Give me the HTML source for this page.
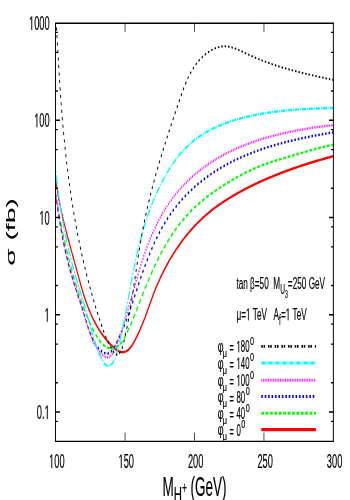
<!DOCTYPE html>
<html><head><meta charset="utf-8"><title>Cross section vs charged Higgs mass</title>
<style>html,body{margin:0;padding:0;background:#fff}svg{display:block;will-change:transform}text{font-family:"Liberation Sans",sans-serif;fill:#000;stroke:#000;stroke-width:0.18px}</style></head><body>
<svg width="350" height="500" viewBox="0 0 350 500">
<rect width="350" height="500" fill="#fff"/>
<defs><clipPath id="c"><rect x="123.56" y="23.00" width="617.33" height="418.30"/></clipPath></defs>
<g transform="scale(0.4500,1)" clip-path="url(#c)" fill="none">
<path d="M121.47,167.93 L121.62,168.77 L121.77,169.62 L121.93,170.47 L122.10,171.31 L122.27,172.16 L122.45,173.00 L122.63,173.84 L122.82,174.69 L123.02,175.53 L123.22,176.37 L123.43,177.21 L123.64,178.04 L123.86,178.88 L124.09,179.72 L124.32,180.55 L124.55,181.39 L124.79,182.22 L125.04,183.06 L125.29,183.89 L125.55,184.72 L125.81,185.55 L126.08,186.38 L126.35,187.22 L126.63,188.04 L126.91,188.87 L127.20,189.70 L127.49,190.53 L127.79,191.35 L128.09,192.18 L128.39,193.01 L128.70,193.83 L129.02,194.66 L129.34,195.48 L129.66,196.30 L129.99,197.12 L130.33,197.95 L130.66,198.77 L131.00,199.59 L131.35,200.41 L131.70,201.23 L132.05,202.05 L132.41,202.86 L132.77,203.68 L133.14,204.50 L133.51,205.32 L133.88,206.13 L134.26,206.95 L134.64,207.76 L135.02,208.58 L135.41,209.39 L135.80,210.21 L136.19,211.02 L136.59,211.83 L136.99,212.65 L137.40,213.46 L137.80,214.27 L138.22,215.08 L138.63,215.89 L139.05,216.71 L139.47,217.52 L139.89,218.33 L140.31,219.14 L140.74,219.95 L141.17,220.76 L141.61,221.56 L142.04,222.37 L142.48,223.18 L142.92,223.99 L143.37,224.80 L143.81,225.61 L144.26,226.41 L144.71,227.22 L145.17,228.03 L145.62,228.83 L146.08,229.64 L146.54,230.45 L147.00,231.25 L147.46,232.06 L147.93,232.86 L148.39,233.67 L148.86,234.48 L149.33,235.28 L149.81,236.09 L150.28,236.89 L150.75,237.70 L151.23,238.50 L151.71,239.31 L152.19,240.11 L152.67,240.92 L153.15,241.72 L153.64,242.52 L154.12,243.33 L154.61,244.13 L155.09,244.94 L155.58,245.74 L156.07,246.55 L156.56,247.35 L157.05,248.16 L157.54,248.96 L158.03,249.77 L158.52,250.57 L159.02,251.37 L159.51,252.18 L160.00,252.98 L160.50,253.79 L160.99,254.59 L161.49,255.40 L161.98,256.21 L162.48,257.01 L162.97,257.82 L163.47,258.62 L163.97,259.43 L164.46,260.23 L164.96,261.04 L165.45,261.85 L165.95,262.65 L166.44,263.46 L166.94,264.27 L167.43,265.07 L167.92,265.88 L168.42,266.69 L168.91,267.50 L169.40,268.31 L169.89,269.11 L170.38,269.92 L170.87,270.73 L171.36,271.54 L171.85,272.35 L172.34,273.16 L172.83,273.97 L173.32,274.78 L173.81,275.59 L174.30,276.40 L174.79,277.21 L175.28,278.02 L175.78,278.83 L176.27,279.64 L176.77,280.45 L177.26,281.26 L177.76,282.07 L178.27,282.87 L178.77,283.68 L179.28,284.49 L179.79,285.30 L180.30,286.11 L180.82,286.91 L181.34,287.72 L181.86,288.52 L182.38,289.33 L182.91,290.13 L183.45,290.94 L183.99,291.74 L184.53,292.54 L185.08,293.34 L185.63,294.14 L186.19,294.94 L186.75,295.74 L187.32,296.54 L187.89,297.33 L188.47,298.13 L189.06,298.92 L189.65,299.71 L190.25,300.51 L190.86,301.30 L191.47,302.09 L192.09,302.87 L192.71,303.66 L193.35,304.45 L193.99,305.23 L194.64,306.01 L195.29,306.79 L195.96,307.57 L196.63,308.35 L197.32,309.13 L198.01,309.90 L198.71,310.67 L199.41,311.44 L200.13,312.21 L200.86,312.98 L201.60,313.75 L202.35,314.51 L203.10,315.27 L203.87,316.03 L204.65,316.79 L205.44,317.54 L206.24,318.30 L207.05,319.05 L207.87,319.80 L208.70,320.55 L209.55,321.29 L210.41,322.03 L211.28,322.77 L212.16,323.51 L213.05,324.25 L213.96,324.98 L214.88,325.71 L215.81,326.44 L216.75,327.16 L217.71,327.89 L218.68,328.61 L219.67,329.32 L220.67,330.04 L221.69,330.75 L222.71,331.46 L223.76,332.16 L224.82,332.87 L225.89,333.57 L226.98,334.27 L228.08,334.96 L229.20,335.65 L230.33,336.34 L231.48,337.02 L232.65,337.71 L233.83,338.39 L235.03,339.06 L236.25,339.73 L237.48,340.40 L238.73,341.07 L240.00,341.73 L241.28,342.39 L242.59,343.04 L243.91,343.69 L245.24,344.34 L246.60,344.98 L247.97,345.62 L249.36,346.24 L250.76,346.85 L252.17,347.43 L253.60,348.00 L255.03,348.55 L256.48,349.06 L257.93,349.55 L259.39,350.01 L260.86,350.43 L262.33,350.81 L263.81,351.15 L265.28,351.44 L266.76,351.69 L268.25,351.89 L269.73,352.03 L271.20,352.12 L272.68,352.14 L274.15,352.11 L275.61,352.01 L277.07,351.86 L278.51,351.64 L279.92,351.37 L281.32,351.05 L282.69,350.67 L284.03,350.24 L285.33,349.76 L286.60,349.24 L287.83,348.67 L289.02,348.06 L290.18,347.42 L291.32,346.74 L292.42,346.03 L293.50,345.30 L294.55,344.55 L295.57,343.79 L296.58,343.00 L297.57,342.21 L298.53,341.42 L299.48,340.62 L300.42,339.82 L301.34,339.02 L302.25,338.22 L303.14,337.43 L304.02,336.63 L304.89,335.83 L305.75,335.04 L306.59,334.25 L307.42,333.45 L308.24,332.66 L309.04,331.87 L309.84,331.08 L310.62,330.29 L311.40,329.50 L312.16,328.71 L312.91,327.93 L313.66,327.14 L314.39,326.35 L315.12,325.57 L315.84,324.78 L316.55,324.00 L317.25,323.21 L317.94,322.43 L318.63,321.65 L319.31,320.86 L319.98,320.08 L320.65,319.30 L321.31,318.52 L321.97,317.74 L322.62,316.96 L323.27,316.18 L323.91,315.41 L324.54,314.63 L325.18,313.85 L325.81,313.08 L326.43,312.30 L327.06,311.52 L327.68,310.75 L328.30,309.97 L328.91,309.20 L329.53,308.43 L330.14,307.65 L330.76,306.88 L331.37,306.11 L331.98,305.34 L332.59,304.56 L333.21,303.79 L333.82,303.02 L334.44,302.25 L335.05,301.48 L335.67,300.71 L336.29,299.94 L336.91,299.17 L337.54,298.40 L338.16,297.64 L338.80,296.87 L339.43,296.10 L340.07,295.33 L340.71,294.56 L341.36,293.80 L342.02,293.03 L342.68,292.26 L343.34,291.50 L344.01,290.73 L344.69,289.96 L345.37,289.20 L346.06,288.43 L346.76,287.67 L347.46,286.90 L348.17,286.14 L348.89,285.37 L349.61,284.61 L350.34,283.85 L351.08,283.08 L351.82,282.32 L352.57,281.56 L353.33,280.80 L354.09,280.04 L354.86,279.28 L355.64,278.52 L356.42,277.76 L357.21,277.00 L358.00,276.25 L358.81,275.49 L359.62,274.74 L360.43,273.98 L361.25,273.23 L362.08,272.47 L362.92,271.72 L363.76,270.97 L364.61,270.22 L365.46,269.47 L366.33,268.73 L367.19,267.98 L368.07,267.24 L368.95,266.49 L369.84,265.75 L370.73,265.01 L371.64,264.27 L372.54,263.53 L373.46,262.79 L374.38,262.06 L375.31,261.32 L376.24,260.59 L377.18,259.86 L378.13,259.13 L379.08,258.40 L380.04,257.67 L381.01,256.95 L381.99,256.23 L382.97,255.50 L383.95,254.79 L384.95,254.07 L385.95,253.35 L386.95,252.64 L387.97,251.92 L388.99,251.21 L390.01,250.51 L391.04,249.80 L392.08,249.09 L393.13,248.39 L394.18,247.69 L395.24,246.99 L396.31,246.30 L397.38,245.60 L398.46,244.91 L399.54,244.22 L400.63,243.53 L401.73,242.85 L402.84,242.17 L403.95,241.49 L405.07,240.81 L406.19,240.13 L407.32,239.46 L408.46,238.79 L409.61,238.12 L410.76,237.46 L411.91,236.79 L413.08,236.13 L414.25,235.48 L415.42,234.82 L416.61,234.17 L417.80,233.52 L418.99,232.88 L420.20,232.23 L421.41,231.59 L422.62,230.95 L423.85,230.32 L425.08,229.69 L426.31,229.06 L427.55,228.43 L428.80,227.81 L430.06,227.19 L431.32,226.58 L432.59,225.96 L433.86,225.35 L435.14,224.75 L436.43,224.14 L437.73,223.54 L439.03,222.95 L440.33,222.35 L441.65,221.76 L442.97,221.18 L444.30,220.60 L445.63,220.02 L446.97,219.44 L448.32,218.87 L449.67,218.30 L451.03,217.74 L452.40,217.17 L453.77,216.62 L455.15,216.06 L456.53,215.51 L457.92,214.97 L459.32,214.42 L460.73,213.88 L462.14,213.35 L463.56,212.82 L464.98,212.29 L466.41,211.76 L467.84,211.24 L469.28,210.73 L470.73,210.21 L472.18,209.70 L473.64,209.19 L475.10,208.69 L476.57,208.19 L478.05,207.69 L479.53,207.20 L481.01,206.70 L482.50,206.22 L484.00,205.73 L485.50,205.25 L487.00,204.77 L488.51,204.30 L490.03,203.82 L491.55,203.35 L493.07,202.89 L494.60,202.42 L496.14,201.96 L497.68,201.50 L499.22,201.05 L500.77,200.60 L502.32,200.15 L503.87,199.70 L505.43,199.25 L507.00,198.81 L508.57,198.37 L510.14,197.94 L511.72,197.50 L513.30,197.07 L514.88,196.64 L516.47,196.22 L518.06,195.79 L519.65,195.37 L521.25,194.95 L522.85,194.53 L524.46,194.12 L526.07,193.71 L527.68,193.30 L529.29,192.89 L530.91,192.48 L532.53,192.08 L534.16,191.68 L535.78,191.28 L537.41,190.88 L539.05,190.48 L540.68,190.09 L542.32,189.70 L543.96,189.31 L545.60,188.92 L547.25,188.54 L548.90,188.15 L550.55,187.77 L552.20,187.39 L553.86,187.02 L555.52,186.64 L557.18,186.27 L558.85,185.90 L560.52,185.53 L562.18,185.16 L563.86,184.79 L565.53,184.43 L567.21,184.07 L568.89,183.71 L570.57,183.35 L572.25,183.00 L573.94,182.64 L575.63,182.29 L577.32,181.94 L579.01,181.59 L580.70,181.24 L582.40,180.90 L584.10,180.56 L585.80,180.22 L587.50,179.88 L589.21,179.54 L590.92,179.20 L592.62,178.87 L594.34,178.54 L596.05,178.21 L597.76,177.88 L599.48,177.55 L601.20,177.23 L602.92,176.90 L604.64,176.58 L606.36,176.26 L608.09,175.94 L609.82,175.63 L611.54,175.31 L613.27,175.00 L615.01,174.69 L616.74,174.38 L618.47,174.07 L620.21,173.76 L621.95,173.46 L623.69,173.15 L625.43,172.85 L627.17,172.55 L628.91,172.25 L630.66,171.96 L632.41,171.66 L634.15,171.37 L635.90,171.08 L637.65,170.79 L639.40,170.50 L641.16,170.21 L642.91,169.92 L644.66,169.64 L646.42,169.36 L648.18,169.07 L649.93,168.80 L651.69,168.52 L653.45,168.24 L655.21,167.96 L656.97,167.69 L658.74,167.42 L660.50,167.15 L662.26,166.88 L664.03,166.61 L665.79,166.34 L667.56,166.08 L669.33,165.81 L671.09,165.55 L672.86,165.29 L674.63,165.03 L676.40,164.77 L678.17,164.51 L679.94,164.26 L681.71,164.00 L683.48,163.75 L685.26,163.50 L687.03,163.25 L688.80,163.00 L690.58,162.75 L692.35,162.50 L694.12,162.26 L695.90,162.01 L697.67,161.77 L699.45,161.53 L701.22,161.29 L703.00,161.05 L704.77,160.81 L706.55,160.57 L708.32,160.34 L710.10,160.10 L711.88,159.87 L713.65,159.64 L715.43,159.40 L717.20,159.17 L718.98,158.95 L720.75,158.72 L722.53,158.49 L724.30,158.27 L726.08,158.04 L727.85,157.82 L729.63,157.60 L731.40,157.38 L733.18,157.16 L734.95,156.94 L736.72,156.72 L738.50,156.50 L740.27,156.29 L742.04,156.07" stroke="#ff0000" stroke-width="2.45" stroke-linejoin="round"/>
<path d="M121.04,186.07 L121.30,186.88 L121.56,187.69 L121.83,188.51 L122.10,189.32 L122.37,190.14 L122.64,190.96 L122.91,191.77 L123.19,192.59 L123.47,193.41 L123.75,194.23 L124.03,195.04 L124.32,195.86 L124.61,196.68 L124.90,197.50 L125.19,198.32 L125.49,199.14 L125.78,199.96 L126.08,200.78 L126.38,201.60 L126.69,202.43 L126.99,203.25 L127.30,204.07 L127.61,204.89 L127.93,205.71 L128.24,206.54 L128.56,207.36 L128.88,208.18 L129.20,209.01 L129.53,209.83 L129.85,210.65 L130.18,211.48 L130.51,212.30 L130.85,213.13 L131.18,213.95 L131.52,214.77 L131.86,215.60 L132.20,216.42 L132.55,217.25 L132.89,218.07 L133.24,218.90 L133.59,219.72 L133.95,220.55 L134.30,221.37 L134.66,222.20 L135.02,223.02 L135.39,223.85 L135.75,224.67 L136.12,225.50 L136.49,226.32 L136.86,227.15 L137.23,227.97 L137.61,228.80 L137.99,229.62 L138.37,230.44 L138.75,231.27 L139.14,232.09 L139.52,232.92 L139.91,233.74 L140.31,234.56 L140.70,235.39 L141.10,236.21 L141.50,237.03 L141.90,237.86 L142.30,238.68 L142.70,239.50 L143.11,240.32 L143.52,241.15 L143.93,241.97 L144.35,242.79 L144.77,243.61 L145.18,244.43 L145.61,245.25 L146.03,246.07 L146.45,246.89 L146.88,247.71 L147.31,248.53 L147.74,249.35 L148.18,250.17 L148.62,250.98 L149.05,251.80 L149.50,252.62 L149.94,253.44 L150.38,254.25 L150.83,255.07 L151.28,255.88 L151.73,256.70 L152.19,257.51 L152.65,258.33 L153.10,259.14 L153.57,259.95 L154.03,260.77 L154.49,261.58 L154.96,262.39 L155.43,263.20 L155.91,264.01 L156.38,264.82 L156.86,265.63 L157.34,266.44 L157.82,267.24 L158.30,268.05 L158.79,268.86 L159.27,269.66 L159.76,270.47 L160.26,271.27 L160.75,272.08 L161.25,272.88 L161.75,273.68 L162.25,274.48 L162.75,275.28 L163.26,276.08 L163.76,276.88 L164.27,277.68 L164.79,278.48 L165.30,279.28 L165.82,280.07 L166.34,280.87 L166.86,281.66 L167.38,282.46 L167.91,283.25 L168.43,284.04 L168.96,284.83 L169.50,285.62 L170.03,286.41 L170.57,287.20 L171.11,287.99 L171.65,288.77 L172.19,289.56 L172.73,290.34 L173.28,291.13 L173.83,291.91 L174.38,292.69 L174.94,293.47 L175.49,294.25 L176.05,295.03 L176.61,295.81 L177.18,296.58 L177.74,297.36 L178.31,298.13 L178.88,298.91 L179.46,299.68 L180.04,300.45 L180.62,301.22 L181.21,302.00 L181.80,302.77 L182.40,303.54 L183.00,304.31 L183.61,305.08 L184.22,305.85 L184.84,306.61 L185.46,307.38 L186.10,308.15 L186.73,308.92 L187.38,309.69 L188.03,310.46 L188.69,311.23 L189.35,311.99 L190.03,312.76 L190.71,313.53 L191.40,314.30 L192.10,315.07 L192.80,315.84 L193.52,316.61 L194.24,317.39 L194.98,318.16 L195.72,318.93 L196.48,319.70 L197.24,320.48 L198.02,321.25 L198.81,322.03 L199.61,322.81 L200.41,323.58 L201.23,324.36 L202.07,325.14 L202.91,325.93 L203.77,326.71 L204.64,327.49 L205.52,328.28 L206.42,329.06 L207.32,329.85 L208.25,330.64 L209.18,331.43 L210.13,332.22 L211.10,333.02 L212.08,333.82 L213.07,334.61 L214.08,335.40 L215.11,336.19 L216.16,336.97 L217.22,337.75 L218.30,338.51 L219.41,339.26 L220.53,339.99 L221.68,340.71 L222.84,341.41 L224.04,342.08 L225.25,342.73 L226.49,343.36 L227.76,343.96 L229.05,344.52 L230.37,345.06 L231.71,345.56 L233.09,346.02 L234.49,346.45 L235.93,346.83 L237.40,347.17 L238.89,347.47 L240.42,347.72 L241.96,347.92 L243.52,348.08 L245.10,348.19 L246.68,348.25 L248.26,348.26 L249.84,348.22 L251.41,348.13 L252.97,348.00 L254.51,347.81 L256.03,347.56 L257.52,347.27 L258.97,346.92 L260.40,346.52 L261.80,346.08 L263.16,345.59 L264.48,345.07 L265.77,344.50 L267.02,343.91 L268.24,343.28 L269.42,342.62 L270.56,341.94 L271.67,341.24 L272.73,340.52 L273.77,339.78 L274.78,339.03 L275.75,338.26 L276.71,337.48 L277.64,336.69 L278.54,335.90 L279.44,335.09 L280.31,334.29 L281.18,333.49 L282.03,332.68 L282.87,331.88 L283.71,331.08 L284.53,330.28 L285.35,329.49 L286.16,328.69 L286.96,327.90 L287.75,327.11 L288.54,326.32 L289.31,325.53 L290.08,324.75 L290.85,323.96 L291.60,323.18 L292.35,322.40 L293.09,321.62 L293.83,320.84 L294.56,320.06 L295.28,319.28 L296.00,318.51 L296.72,317.73 L297.43,316.96 L298.13,316.18 L298.83,315.41 L299.52,314.64 L300.21,313.87 L300.90,313.10 L301.58,312.33 L302.26,311.57 L302.94,310.80 L303.61,310.03 L304.28,309.27 L304.95,308.50 L305.62,307.74 L306.28,306.98 L306.94,306.21 L307.60,305.45 L308.26,304.69 L308.92,303.92 L309.57,303.16 L310.23,302.40 L310.88,301.64 L311.54,300.88 L312.19,300.11 L312.85,299.35 L313.50,298.59 L314.16,297.83 L314.81,297.07 L315.47,296.30 L316.13,295.54 L316.79,294.78 L317.45,294.02 L318.12,293.25 L318.78,292.49 L319.45,291.73 L320.12,290.96 L320.79,290.20 L321.47,289.43 L322.15,288.66 L322.83,287.90 L323.52,287.13 L324.21,286.36 L324.90,285.60 L325.60,284.83 L326.30,284.06 L327.00,283.29 L327.71,282.52 L328.42,281.75 L329.13,280.98 L329.85,280.21 L330.57,279.44 L331.30,278.67 L332.03,277.90 L332.76,277.14 L333.50,276.37 L334.24,275.60 L334.98,274.83 L335.73,274.06 L336.48,273.29 L337.24,272.52 L338.00,271.75 L338.76,270.99 L339.53,270.22 L340.30,269.45 L341.08,268.69 L341.86,267.92 L342.65,267.16 L343.44,266.39 L344.24,265.63 L345.04,264.86 L345.84,264.10 L346.65,263.34 L347.46,262.58 L348.28,261.82 L349.10,261.06 L349.93,260.30 L350.76,259.54 L351.60,258.79 L352.44,258.03 L353.29,257.28 L354.14,256.52 L355.00,255.77 L355.87,255.02 L356.73,254.27 L357.61,253.52 L358.49,252.77 L359.37,252.03 L360.26,251.28 L361.15,250.54 L362.05,249.80 L362.96,249.06 L363.87,248.32 L364.79,247.58 L365.71,246.85 L366.64,246.12 L367.57,245.38 L368.51,244.65 L369.46,243.93 L370.41,243.20 L371.36,242.47 L372.33,241.75 L373.30,241.03 L374.27,240.31 L375.25,239.59 L376.24,238.88 L377.23,238.17 L378.23,237.46 L379.24,236.75 L380.25,236.04 L381.27,235.34 L382.30,234.63 L383.33,233.94 L384.37,233.24 L385.41,232.54 L386.46,231.85 L387.52,231.16 L388.58,230.47 L389.66,229.79 L390.73,229.11 L391.82,228.43 L392.91,227.75 L394.01,227.08 L395.11,226.40 L396.23,225.74 L397.35,225.07 L398.47,224.41 L399.61,223.75 L400.75,223.09 L401.90,222.44 L403.05,221.78 L404.22,221.14 L405.39,220.49 L406.56,219.85 L407.75,219.21 L408.94,218.58 L410.14,217.94 L411.35,217.31 L412.57,216.69 L413.79,216.07 L415.02,215.45 L416.26,214.83 L417.50,214.22 L418.76,213.61 L420.02,213.01 L421.29,212.41 L422.57,211.81 L423.86,211.22 L425.15,210.63 L426.45,210.04 L427.76,209.46 L429.08,208.88 L430.40,208.30 L431.74,207.73 L433.08,207.16 L434.42,206.59 L435.78,206.03 L437.14,205.47 L438.51,204.92 L439.88,204.37 L441.26,203.82 L442.65,203.27 L444.05,202.73 L445.45,202.19 L446.86,201.65 L448.27,201.12 L449.69,200.59 L451.12,200.06 L452.55,199.54 L453.99,199.01 L455.44,198.50 L456.89,197.98 L458.35,197.47 L459.81,196.96 L461.28,196.45 L462.75,195.95 L464.23,195.44 L465.71,194.95 L467.20,194.45 L468.70,193.95 L470.19,193.46 L471.70,192.97 L473.21,192.49 L474.72,192.01 L476.24,191.52 L477.76,191.04 L479.29,190.57 L480.82,190.09 L482.36,189.62 L483.90,189.15 L485.44,188.69 L486.99,188.22 L488.54,187.76 L490.09,187.30 L491.65,186.84 L493.22,186.38 L494.78,185.93 L496.35,185.48 L497.93,185.03 L499.50,184.58 L501.08,184.13 L502.66,183.69 L504.25,183.24 L505.84,182.80 L507.43,182.36 L509.02,181.92 L510.62,181.49 L512.22,181.06 L513.82,180.62 L515.42,180.19 L517.03,179.76 L518.64,179.34 L520.25,178.91 L521.86,178.49 L523.48,178.07 L525.10,177.65 L526.72,177.24 L528.35,176.83 L529.98,176.42 L531.61,176.01 L533.24,175.60 L534.88,175.20 L536.52,174.80 L538.16,174.41 L539.81,174.01 L541.46,173.62 L543.11,173.24 L544.77,172.86 L546.42,172.48 L548.08,172.10 L549.75,171.73 L551.42,171.36 L553.09,170.99 L554.76,170.63 L556.44,170.27 L558.12,169.92 L559.80,169.57 L561.49,169.22 L563.18,168.88 L564.88,168.54 L566.57,168.21 L568.27,167.88 L569.98,167.56 L571.69,167.24 L573.40,166.92 L575.11,166.61 L576.83,166.30 L578.55,166.00 L580.27,165.70 L582.00,165.40 L583.73,165.11 L585.46,164.82 L587.20,164.53 L588.93,164.25 L590.67,163.97 L592.41,163.69 L594.16,163.42 L595.90,163.15 L597.65,162.88 L599.40,162.61 L601.16,162.35 L602.91,162.08 L604.67,161.82 L606.42,161.57 L608.18,161.31 L609.95,161.06 L611.71,160.81 L613.47,160.56 L615.24,160.31 L617.01,160.06 L618.77,159.81 L620.54,159.57 L622.31,159.33 L624.09,159.08 L625.86,158.84 L627.63,158.60 L629.41,158.36 L631.18,158.12 L632.96,157.88 L634.73,157.65 L636.51,157.41 L638.28,157.17 L640.06,156.93 L641.84,156.69 L643.62,156.45 L645.39,156.22 L647.17,155.98 L648.95,155.74 L650.73,155.50 L652.50,155.26 L654.28,155.02 L656.06,154.78 L657.84,154.54 L659.62,154.31 L661.39,154.07 L663.17,153.83 L664.95,153.59 L666.73,153.35 L668.51,153.12 L670.29,152.88 L672.07,152.65 L673.86,152.41 L675.64,152.18 L677.42,151.94 L679.20,151.71 L680.99,151.48 L682.77,151.25 L684.56,151.02 L686.34,150.79 L688.13,150.56 L689.92,150.34 L691.71,150.11 L693.50,149.89 L695.29,149.67 L697.08,149.45 L698.87,149.23 L700.66,149.01 L702.45,148.80 L704.25,148.58 L706.04,148.37 L707.84,148.16 L709.64,147.95 L711.44,147.75 L713.24,147.54 L715.04,147.34 L716.84,147.14 L718.65,146.94 L720.45,146.75 L722.26,146.56 L724.06,146.36 L725.87,146.18 L727.68,145.99 L729.50,145.81 L731.31,145.63 L733.12,145.45 L734.94,145.27 L736.76,145.10 L738.58,144.93 L740.40,144.77 L742.22,144.60" stroke="#00ff00" stroke-width="2.45" stroke-linejoin="round" stroke-dasharray="6.00,3.78"/>
<path d="M121.03,185.99 L121.29,186.82 L121.55,187.65 L121.81,188.49 L122.07,189.32 L122.32,190.15 L122.58,190.98 L122.84,191.81 L123.10,192.64 L123.36,193.47 L123.62,194.30 L123.88,195.12 L124.14,195.95 L124.40,196.78 L124.67,197.61 L124.93,198.44 L125.20,199.27 L125.46,200.10 L125.73,200.92 L125.99,201.75 L126.26,202.58 L126.53,203.41 L126.80,204.23 L127.07,205.06 L127.34,205.89 L127.62,206.71 L127.89,207.54 L128.17,208.37 L128.44,209.19 L128.72,210.02 L129.00,210.84 L129.28,211.67 L129.57,212.49 L129.85,213.32 L130.14,214.14 L130.42,214.97 L130.71,215.79 L131.00,216.62 L131.30,217.44 L131.59,218.26 L131.89,219.09 L132.18,219.91 L132.48,220.73 L132.79,221.56 L133.09,222.38 L133.39,223.20 L133.70,224.02 L134.01,224.84 L134.33,225.67 L134.64,226.49 L134.96,227.31 L135.28,228.13 L135.60,228.95 L135.92,229.77 L136.25,230.59 L136.58,231.41 L136.91,232.23 L137.24,233.05 L137.58,233.87 L137.92,234.69 L138.26,235.51 L138.60,236.33 L138.95,237.15 L139.30,237.97 L139.65,238.79 L140.01,239.60 L140.37,240.42 L140.73,241.24 L141.09,242.06 L141.46,242.87 L141.83,243.69 L142.21,244.51 L142.59,245.32 L142.97,246.14 L143.35,246.96 L143.74,247.77 L144.13,248.59 L144.52,249.40 L144.92,250.22 L145.32,251.03 L145.73,251.85 L146.14,252.66 L146.55,253.48 L146.96,254.29 L147.38,255.10 L147.81,255.92 L148.23,256.73 L148.67,257.54 L149.10,258.36 L149.54,259.17 L149.98,259.98 L150.43,260.79 L150.88,261.61 L151.34,262.42 L151.80,263.23 L152.26,264.04 L152.73,264.85 L153.20,265.66 L153.68,266.47 L154.16,267.28 L154.64,268.09 L155.14,268.90 L155.63,269.71 L156.13,270.52 L156.63,271.33 L157.14,272.14 L157.65,272.95 L158.17,273.76 L158.69,274.57 L159.21,275.37 L159.74,276.18 L160.27,276.99 L160.81,277.80 L161.35,278.60 L161.89,279.41 L162.43,280.21 L162.98,281.02 L163.53,281.82 L164.08,282.63 L164.64,283.43 L165.20,284.24 L165.76,285.04 L166.32,285.84 L166.88,286.65 L167.45,287.45 L168.02,288.25 L168.59,289.05 L169.16,289.85 L169.73,290.66 L170.30,291.46 L170.88,292.26 L171.45,293.05 L172.03,293.85 L172.60,294.65 L173.18,295.45 L173.76,296.25 L174.34,297.04 L174.91,297.84 L175.49,298.64 L176.07,299.43 L176.65,300.23 L177.22,301.02 L177.80,301.81 L178.38,302.61 L178.95,303.40 L179.53,304.19 L180.10,304.98 L180.67,305.77 L181.24,306.56 L181.81,307.35 L182.38,308.14 L182.94,308.93 L183.51,309.72 L184.07,310.50 L184.63,311.29 L185.19,312.07 L185.74,312.86 L186.29,313.64 L186.84,314.43 L187.39,315.21 L187.94,315.99 L188.48,316.77 L189.01,317.55 L189.55,318.33 L190.08,319.11 L190.61,319.89 L191.13,320.67 L191.65,321.44 L192.18,322.22 L192.70,322.99 L193.22,323.77 L193.75,324.54 L194.28,325.32 L194.82,326.09 L195.36,326.87 L195.92,327.64 L196.48,328.42 L197.06,329.19 L197.65,329.96 L198.25,330.74 L198.87,331.51 L199.50,332.29 L200.16,333.07 L200.83,333.84 L201.53,334.62 L202.25,335.40 L202.99,336.18 L203.76,336.96 L204.56,337.74 L205.38,338.52 L206.23,339.31 L207.12,340.09 L208.04,340.88 L208.99,341.66 L209.97,342.45 L211.00,343.24 L212.06,344.03 L213.16,344.82 L214.30,345.60 L215.48,346.36 L216.71,347.11 L217.99,347.83 L219.31,348.53 L220.68,349.20 L222.10,349.84 L223.57,350.44 L225.07,351.00 L226.59,351.51 L228.14,351.97 L229.70,352.38 L231.26,352.73 L232.81,353.02 L234.35,353.24 L235.87,353.39 L237.36,353.46 L238.82,353.46 L240.23,353.37 L241.59,353.20 L242.89,352.94 L244.16,352.61 L245.38,352.22 L246.55,351.76 L247.69,351.24 L248.80,350.67 L249.87,350.05 L250.91,349.39 L251.92,348.69 L252.91,347.97 L253.87,347.22 L254.82,346.45 L255.74,345.67 L256.66,344.88 L257.56,344.09 L258.45,343.30 L259.33,342.51 L260.20,341.72 L261.06,340.93 L261.91,340.14 L262.75,339.35 L263.58,338.56 L264.41,337.77 L265.22,336.99 L266.03,336.20 L266.82,335.41 L267.61,334.63 L268.39,333.84 L269.16,333.05 L269.92,332.27 L270.68,331.48 L271.42,330.70 L272.16,329.92 L272.89,329.13 L273.62,328.35 L274.34,327.56 L275.05,326.78 L275.75,326.00 L276.45,325.21 L277.14,324.43 L277.82,323.65 L278.50,322.87 L279.18,322.08 L279.84,321.30 L280.50,320.52 L281.16,319.74 L281.81,318.96 L282.46,318.17 L283.10,317.39 L283.73,316.61 L284.37,315.83 L284.99,315.05 L285.62,314.27 L286.24,313.48 L286.85,312.70 L287.46,311.92 L288.07,311.14 L288.68,310.36 L289.28,309.58 L289.88,308.79 L290.47,308.01 L291.06,307.23 L291.65,306.45 L292.24,305.67 L292.83,304.88 L293.41,304.10 L293.99,303.32 L294.57,302.54 L295.15,301.75 L295.73,300.97 L296.30,300.19 L296.88,299.40 L297.45,298.62 L298.03,297.83 L298.60,297.05 L299.17,296.26 L299.75,295.48 L300.32,294.69 L300.89,293.91 L301.46,293.12 L302.04,292.33 L302.61,291.55 L303.19,290.76 L303.76,289.97 L304.34,289.18 L304.92,288.39 L305.50,287.60 L306.08,286.81 L306.66,286.02 L307.24,285.23 L307.83,284.44 L308.42,283.65 L309.01,282.86 L309.60,282.07 L310.19,281.28 L310.78,280.49 L311.38,279.70 L311.98,278.91 L312.58,278.12 L313.18,277.33 L313.79,276.54 L314.39,275.74 L315.00,274.95 L315.62,274.16 L316.23,273.37 L316.85,272.58 L317.47,271.79 L318.09,271.00 L318.72,270.21 L319.35,269.42 L319.98,268.63 L320.62,267.84 L321.26,267.06 L321.90,266.27 L322.54,265.48 L323.19,264.69 L323.85,263.91 L324.50,263.12 L325.16,262.34 L325.82,261.55 L326.49,260.77 L327.16,259.98 L327.84,259.20 L328.51,258.42 L329.20,257.64 L329.88,256.86 L330.58,256.08 L331.27,255.30 L331.97,254.52 L332.67,253.74 L333.38,252.97 L334.10,252.19 L334.81,251.42 L335.54,250.65 L336.26,249.87 L337.00,249.10 L337.73,248.33 L338.48,247.56 L339.22,246.79 L339.98,246.03 L340.73,245.26 L341.50,244.50 L342.26,243.74 L343.04,242.97 L343.82,242.21 L344.60,241.45 L345.39,240.70 L346.19,239.94 L346.99,239.19 L347.80,238.43 L348.61,237.68 L349.43,236.93 L350.26,236.18 L351.09,235.43 L351.93,234.69 L352.78,233.94 L353.63,233.20 L354.49,232.46 L355.35,231.72 L356.22,230.99 L357.10,230.25 L357.98,229.52 L358.88,228.79 L359.77,228.06 L360.68,227.33 L361.59,226.60 L362.51,225.88 L363.44,225.16 L364.37,224.44 L365.31,223.72 L366.26,223.00 L367.22,222.29 L368.18,221.58 L369.15,220.87 L370.13,220.16 L371.12,219.45 L372.12,218.75 L373.12,218.05 L374.13,217.35 L375.15,216.66 L376.18,215.96 L377.21,215.27 L378.25,214.58 L379.31,213.90 L380.37,213.21 L381.44,212.53 L382.51,211.85 L383.60,211.18 L384.69,210.50 L385.80,209.83 L386.91,209.16 L388.03,208.50 L389.16,207.83 L390.30,207.17 L391.45,206.52 L392.61,205.86 L393.77,205.21 L394.95,204.56 L396.13,203.91 L397.32,203.27 L398.52,202.63 L399.73,201.99 L400.94,201.36 L402.17,200.72 L403.40,200.09 L404.64,199.47 L405.88,198.84 L407.14,198.22 L408.40,197.61 L409.67,196.99 L410.95,196.38 L412.24,195.77 L413.53,195.16 L414.83,194.56 L416.14,193.96 L417.45,193.37 L418.77,192.77 L420.10,192.18 L421.44,191.59 L422.78,191.01 L424.13,190.43 L425.49,189.85 L426.85,189.28 L428.22,188.71 L429.59,188.14 L430.98,187.57 L432.37,187.01 L433.76,186.45 L435.16,185.90 L436.57,185.35 L437.98,184.80 L439.40,184.25 L440.83,183.71 L442.26,183.17 L443.70,182.64 L445.14,182.11 L446.59,181.58 L448.04,181.05 L449.50,180.53 L450.97,180.01 L452.44,179.50 L453.91,178.99 L455.40,178.48 L456.88,177.98 L458.37,177.48 L459.87,176.98 L461.37,176.49 L462.88,176.00 L464.39,175.51 L465.90,175.03 L467.42,174.55 L468.95,174.07 L470.48,173.60 L472.01,173.14 L473.55,172.67 L475.09,172.21 L476.64,171.75 L478.19,171.30 L479.74,170.85 L481.30,170.40 L482.87,169.96 L484.44,169.52 L486.01,169.08 L487.58,168.65 L489.16,168.22 L490.75,167.79 L492.34,167.37 L493.93,166.95 L495.53,166.53 L497.13,166.12 L498.73,165.71 L500.34,165.31 L501.96,164.90 L503.57,164.50 L505.19,164.11 L506.82,163.71 L508.44,163.32 L510.07,162.93 L511.71,162.55 L513.35,162.17 L514.99,161.79 L516.64,161.42 L518.28,161.04 L519.94,160.67 L521.59,160.31 L523.25,159.95 L524.92,159.59 L526.58,159.23 L528.25,158.88 L529.92,158.52 L531.60,158.18 L533.28,157.83 L534.96,157.49 L536.65,157.15 L538.33,156.81 L540.03,156.48 L541.72,156.15 L543.42,155.82 L545.12,155.49 L546.82,155.17 L548.53,154.85 L550.24,154.53 L551.95,154.22 L553.66,153.90 L555.38,153.60 L557.10,153.29 L558.82,152.98 L560.55,152.68 L562.28,152.38 L564.01,152.09 L565.74,151.79 L567.48,151.50 L569.21,151.21 L570.95,150.92 L572.70,150.64 L574.44,150.36 L576.19,150.08 L577.94,149.80 L579.69,149.53 L581.45,149.26 L583.20,148.99 L584.96,148.72 L586.72,148.45 L588.48,148.19 L590.25,147.93 L592.02,147.67 L593.79,147.41 L595.56,147.16 L597.33,146.91 L599.10,146.66 L600.88,146.41 L602.66,146.17 L604.44,145.92 L606.22,145.68 L608.00,145.44 L609.79,145.21 L611.58,144.97 L613.36,144.74 L615.15,144.51 L616.95,144.28 L618.74,144.05 L620.53,143.83 L622.33,143.60 L624.13,143.38 L625.92,143.16 L627.72,142.94 L629.53,142.73 L631.33,142.52 L633.13,142.30 L634.94,142.09 L636.74,141.88 L638.55,141.68 L640.36,141.47 L642.17,141.27 L643.98,141.07 L645.79,140.87 L647.60,140.67 L649.42,140.47 L651.23,140.28 L653.04,140.09 L654.86,139.89 L656.68,139.70 L658.49,139.52 L660.31,139.33 L662.13,139.14 L663.95,138.96 L665.77,138.78 L667.59,138.60 L669.41,138.42 L671.23,138.24 L673.05,138.06 L674.88,137.89 L676.70,137.71 L678.52,137.54 L680.35,137.37 L682.17,137.20 L683.99,137.03 L685.82,136.86 L687.64,136.70 L689.47,136.53 L691.29,136.37 L693.12,136.21 L694.94,136.05 L696.76,135.89 L698.59,135.73 L700.41,135.57 L702.24,135.41 L704.06,135.26 L705.89,135.10 L707.71,134.95 L709.53,134.80 L711.36,134.64 L713.18,134.49 L715.00,134.34 L716.83,134.20 L718.65,134.05 L720.47,133.90 L722.29,133.76 L724.11,133.61 L725.93,133.47 L727.75,133.32 L729.57,133.18 L731.39,133.04 L733.21,132.90 L735.03,132.76 L736.84,132.62 L738.66,132.48 L740.47,132.34 L742.29,132.21" stroke="#0000ff" stroke-width="2.45" stroke-linejoin="round" stroke-dasharray="3.44,4.18"/>
<path d="M121.04,185.02 L121.29,185.84 L121.53,186.67 L121.78,187.49 L122.03,188.31 L122.28,189.14 L122.53,189.96 L122.77,190.78 L123.02,191.61 L123.27,192.43 L123.52,193.26 L123.78,194.08 L124.03,194.91 L124.28,195.73 L124.53,196.56 L124.79,197.38 L125.04,198.21 L125.30,199.03 L125.56,199.86 L125.82,200.68 L126.08,201.51 L126.34,202.34 L126.60,203.16 L126.86,203.99 L127.12,204.81 L127.39,205.64 L127.66,206.47 L127.92,207.29 L128.19,208.12 L128.46,208.95 L128.74,209.77 L129.01,210.60 L129.29,211.43 L129.56,212.25 L129.84,213.08 L130.12,213.90 L130.40,214.73 L130.69,215.56 L130.97,216.38 L131.26,217.21 L131.55,218.03 L131.84,218.86 L132.13,219.69 L132.43,220.51 L132.72,221.34 L133.02,222.16 L133.33,222.99 L133.63,223.81 L133.93,224.64 L134.24,225.46 L134.55,226.29 L134.87,227.11 L135.18,227.93 L135.50,228.76 L135.82,229.58 L136.14,230.41 L136.47,231.23 L136.79,232.05 L137.13,232.88 L137.46,233.70 L137.79,234.52 L138.13,235.34 L138.47,236.16 L138.82,236.99 L139.17,237.81 L139.52,238.63 L139.87,239.45 L140.23,240.27 L140.59,241.09 L140.95,241.91 L141.31,242.73 L141.68,243.55 L142.05,244.37 L142.43,245.18 L142.81,246.00 L143.19,246.82 L143.58,247.64 L143.97,248.45 L144.36,249.27 L144.75,250.09 L145.15,250.90 L145.56,251.72 L145.96,252.53 L146.37,253.34 L146.79,254.16 L147.21,254.97 L147.63,255.78 L148.06,256.60 L148.49,257.41 L148.92,258.22 L149.36,259.03 L149.80,259.84 L150.24,260.65 L150.69,261.46 L151.15,262.27 L151.61,263.08 L152.07,263.88 L152.54,264.69 L153.01,265.50 L153.48,266.30 L153.96,267.11 L154.45,267.91 L154.94,268.72 L155.43,269.52 L155.93,270.32 L156.43,271.12 L156.94,271.93 L157.45,272.73 L157.97,273.53 L158.49,274.33 L159.01,275.13 L159.54,275.93 L160.07,276.72 L160.61,277.52 L161.14,278.32 L161.69,279.12 L162.23,279.91 L162.78,280.71 L163.33,281.50 L163.88,282.30 L164.44,283.09 L164.99,283.89 L165.55,284.68 L166.12,285.48 L166.68,286.27 L167.25,287.06 L167.81,287.86 L168.38,288.65 L168.96,289.44 L169.53,290.24 L170.10,291.03 L170.68,291.82 L171.25,292.61 L171.83,293.41 L172.41,294.20 L172.98,294.99 L173.56,295.78 L174.14,296.58 L174.72,297.37 L175.30,298.16 L175.88,298.95 L176.46,299.75 L177.03,300.54 L177.61,301.33 L178.19,302.12 L178.77,302.92 L179.34,303.71 L179.91,304.50 L180.49,305.30 L181.06,306.09 L181.63,306.89 L182.20,307.68 L182.77,308.47 L183.33,309.27 L183.89,310.07 L184.45,310.86 L185.01,311.66 L185.57,312.45 L186.12,313.25 L186.68,314.05 L187.22,314.85 L187.77,315.64 L188.31,316.44 L188.85,317.24 L189.39,318.04 L189.92,318.84 L190.45,319.64 L190.97,320.44 L191.50,321.25 L192.02,322.05 L192.54,322.85 L193.05,323.65 L193.57,324.46 L194.10,325.26 L194.62,326.06 L195.15,326.86 L195.68,327.66 L196.22,328.46 L196.77,329.26 L197.32,330.06 L197.89,330.85 L198.46,331.65 L199.05,332.44 L199.64,333.23 L200.26,334.02 L200.88,334.81 L201.52,335.59 L202.18,336.37 L202.85,337.15 L203.54,337.93 L204.25,338.71 L204.98,339.48 L205.73,340.24 L206.51,341.01 L207.31,341.77 L208.13,342.53 L208.98,343.28 L209.85,344.03 L210.75,344.77 L211.68,345.51 L212.64,346.25 L213.63,346.98 L214.65,347.71 L215.70,348.43 L216.79,349.15 L217.91,349.86 L219.07,350.57 L220.26,351.27 L221.50,351.96 L222.76,352.65 L224.06,353.31 L225.39,353.96 L226.74,354.57 L228.12,355.14 L229.51,355.66 L230.91,356.13 L232.32,356.54 L233.74,356.87 L235.16,357.13 L236.57,357.30 L237.99,357.38 L239.38,357.36 L240.76,357.24 L242.11,357.03 L243.42,356.73 L244.67,356.35 L245.85,355.90 L246.97,355.37 L248.03,354.78 L249.03,354.13 L249.98,353.44 L250.88,352.70 L251.75,351.93 L252.58,351.13 L253.38,350.32 L254.17,349.48 L254.94,348.64 L255.70,347.80 L256.45,346.97 L257.19,346.13 L257.93,345.30 L258.65,344.47 L259.37,343.64 L260.09,342.81 L260.79,341.98 L261.49,341.16 L262.18,340.34 L262.86,339.52 L263.53,338.70 L264.20,337.88 L264.87,337.06 L265.52,336.24 L266.17,335.43 L266.81,334.62 L267.45,333.81 L268.08,333.00 L268.70,332.19 L269.32,331.38 L269.93,330.57 L270.54,329.77 L271.14,328.97 L271.74,328.16 L272.33,327.36 L272.92,326.56 L273.50,325.76 L274.07,324.96 L274.65,324.16 L275.21,323.37 L275.78,322.57 L276.33,321.77 L276.89,320.98 L277.44,320.18 L277.99,319.39 L278.53,318.60 L279.07,317.81 L279.60,317.01 L280.14,316.22 L280.66,315.43 L281.19,314.64 L281.71,313.85 L282.23,313.06 L282.75,312.27 L283.26,311.49 L283.78,310.70 L284.29,309.91 L284.79,309.12 L285.30,308.33 L285.80,307.55 L286.30,306.76 L286.81,305.97 L287.30,305.19 L287.80,304.40 L288.30,303.61 L288.79,302.82 L289.28,302.04 L289.78,301.25 L290.27,300.46 L290.76,299.67 L291.25,298.88 L291.74,298.10 L292.23,297.31 L292.72,296.52 L293.21,295.73 L293.70,294.94 L294.19,294.15 L294.68,293.36 L295.17,292.56 L295.66,291.77 L296.15,290.98 L296.65,290.19 L297.14,289.39 L297.64,288.60 L298.13,287.80 L298.63,287.01 L299.13,286.21 L299.63,285.41 L300.13,284.61 L300.63,283.82 L301.14,283.02 L301.65,282.22 L302.15,281.42 L302.66,280.62 L303.17,279.82 L303.69,279.02 L304.20,278.22 L304.72,277.42 L305.24,276.62 L305.76,275.82 L306.29,275.02 L306.81,274.21 L307.34,273.41 L307.87,272.61 L308.41,271.81 L308.94,271.01 L309.48,270.21 L310.03,269.41 L310.57,268.60 L311.12,267.80 L311.67,267.00 L312.22,266.20 L312.78,265.40 L313.34,264.60 L313.90,263.80 L314.47,263.00 L315.04,262.20 L315.61,261.40 L316.19,260.60 L316.77,259.80 L317.35,259.00 L317.94,258.21 L318.53,257.41 L319.13,256.61 L319.73,255.81 L320.33,255.02 L320.94,254.22 L321.55,253.43 L322.17,252.64 L322.79,251.84 L323.41,251.05 L324.04,250.26 L324.67,249.47 L325.31,248.68 L325.96,247.89 L326.60,247.10 L327.26,246.31 L327.91,245.53 L328.57,244.74 L329.24,243.95 L329.91,243.17 L330.59,242.39 L331.27,241.61 L331.96,240.83 L332.66,240.05 L333.35,239.27 L334.06,238.49 L334.77,237.71 L335.48,236.94 L336.20,236.17 L336.93,235.39 L337.66,234.62 L338.40,233.85 L339.15,233.09 L339.90,232.32 L340.65,231.55 L341.42,230.79 L342.19,230.03 L342.96,229.27 L343.74,228.51 L344.53,227.75 L345.33,226.99 L346.13,226.24 L346.94,225.49 L347.75,224.73 L348.57,223.98 L349.40,223.24 L350.24,222.49 L351.08,221.75 L351.93,221.00 L352.79,220.26 L353.65,219.53 L354.52,218.79 L355.40,218.05 L356.29,217.32 L357.18,216.59 L358.09,215.86 L358.99,215.14 L359.91,214.41 L360.84,213.69 L361.77,212.97 L362.71,212.25 L363.66,211.53 L364.62,210.82 L365.58,210.11 L366.55,209.40 L367.54,208.69 L368.52,207.99 L369.52,207.29 L370.53,206.59 L371.55,205.89 L372.57,205.20 L373.60,204.50 L374.64,203.81 L375.69,203.13 L376.75,202.44 L377.82,201.76 L378.90,201.08 L379.98,200.40 L381.08,199.73 L382.18,199.06 L383.29,198.39 L384.41,197.72 L385.53,197.06 L386.67,196.40 L387.81,195.74 L388.96,195.09 L390.12,194.44 L391.29,193.79 L392.47,193.14 L393.65,192.50 L394.84,191.86 L396.04,191.22 L397.25,190.58 L398.47,189.95 L399.69,189.32 L400.92,188.70 L402.16,188.08 L403.40,187.46 L404.66,186.84 L405.92,186.23 L407.18,185.62 L408.46,185.01 L409.74,184.41 L411.03,183.81 L412.33,183.21 L413.63,182.61 L414.94,182.02 L416.26,181.44 L417.59,180.85 L418.92,180.27 L420.26,179.69 L421.60,179.12 L422.95,178.55 L424.31,177.98 L425.68,177.42 L427.05,176.86 L428.43,176.30 L429.81,175.75 L431.20,175.20 L432.60,174.65 L434.01,174.11 L435.42,173.57 L436.83,173.03 L438.26,172.50 L439.68,171.97 L441.12,171.45 L442.56,170.93 L444.01,170.41 L445.46,169.90 L446.92,169.39 L448.38,168.88 L449.85,168.38 L451.33,167.88 L452.81,167.39 L454.30,166.90 L455.79,166.41 L457.29,165.93 L458.79,165.45 L460.30,164.97 L461.81,164.50 L463.33,164.03 L464.86,163.57 L466.39,163.10 L467.92,162.65 L469.46,162.19 L471.01,161.74 L472.56,161.29 L474.12,160.85 L475.68,160.41 L477.24,159.97 L478.81,159.54 L480.39,159.11 L481.97,158.68 L483.55,158.26 L485.14,157.84 L486.74,157.42 L488.33,157.01 L489.94,156.60 L491.55,156.20 L493.16,155.79 L494.78,155.39 L496.40,155.00 L498.02,154.61 L499.65,154.22 L501.29,153.83 L502.92,153.45 L504.57,153.07 L506.21,152.69 L507.86,152.32 L509.52,151.95 L511.18,151.58 L512.84,151.21 L514.51,150.85 L516.18,150.50 L517.85,150.14 L519.53,149.79 L521.21,149.44 L522.90,149.10 L524.58,148.75 L526.28,148.41 L527.97,148.08 L529.67,147.74 L531.37,147.41 L533.08,147.09 L534.79,146.76 L536.50,146.44 L538.22,146.12 L539.94,145.81 L541.66,145.49 L543.39,145.18 L545.12,144.88 L546.85,144.57 L548.58,144.27 L550.32,143.97 L552.06,143.68 L553.80,143.38 L555.55,143.09 L557.30,142.81 L559.05,142.52 L560.81,142.24 L562.56,141.96 L564.32,141.68 L566.08,141.41 L567.85,141.14 L569.62,140.87 L571.39,140.60 L573.16,140.34 L574.93,140.08 L576.71,139.82 L578.49,139.56 L580.27,139.31 L582.05,139.06 L583.84,138.81 L585.62,138.57 L587.41,138.32 L589.20,138.08 L591.00,137.84 L592.79,137.61 L594.59,137.37 L596.39,137.14 L598.19,136.91 L599.99,136.69 L601.79,136.46 L603.60,136.24 L605.40,136.02 L607.21,135.81 L609.02,135.59 L610.83,135.38 L612.64,135.17 L614.46,134.96 L616.27,134.76 L618.09,134.55 L619.90,134.35 L621.72,134.15 L623.54,133.96 L625.36,133.76 L627.18,133.57 L629.01,133.38 L630.83,133.19 L632.65,133.00 L634.48,132.82 L636.30,132.64 L638.13,132.46 L639.96,132.28 L641.79,132.10 L643.61,131.93 L645.44,131.76 L647.27,131.59 L649.10,131.42 L650.93,131.25 L652.76,131.09 L654.59,130.93 L656.43,130.77 L658.26,130.61 L660.09,130.45 L661.92,130.30 L663.75,130.15 L665.58,129.99 L667.42,129.85 L669.25,129.70 L671.08,129.55 L672.91,129.41 L674.74,129.27 L676.57,129.13 L678.41,128.99 L680.24,128.85 L682.07,128.72 L683.90,128.58 L685.73,128.45 L687.56,128.32 L689.38,128.19 L691.21,128.06 L693.04,127.94 L694.87,127.81 L696.69,127.69 L698.52,127.57 L700.34,127.45 L702.17,127.33 L703.99,127.22 L705.81,127.10 L707.63,126.99 L709.45,126.88 L711.27,126.77 L713.09,126.66 L714.90,126.55 L716.72,126.44 L718.53,126.34 L720.34,126.23 L722.15,126.13 L723.96,126.03 L725.77,125.93 L727.58,125.83 L729.39,125.74 L731.19,125.64 L732.99,125.55 L734.79,125.45 L736.59,125.36 L738.39,125.27 L740.18,125.18 L741.98,125.09" stroke="#ff00ff" stroke-width="2.45" stroke-linejoin="round" stroke-dasharray="1.89,1.89"/>
<path d="M121.27,159.97 L121.45,160.81 L121.63,161.65 L121.82,162.48 L122.00,163.32 L122.19,164.15 L122.38,164.99 L122.57,165.82 L122.76,166.66 L122.95,167.49 L123.15,168.32 L123.35,169.16 L123.54,169.99 L123.74,170.82 L123.95,171.66 L124.15,172.49 L124.35,173.32 L124.56,174.15 L124.77,174.99 L124.98,175.82 L125.19,176.65 L125.41,177.48 L125.62,178.31 L125.84,179.14 L126.06,179.97 L126.28,180.80 L126.50,181.63 L126.73,182.46 L126.95,183.29 L127.18,184.12 L127.41,184.95 L127.65,185.78 L127.88,186.61 L128.12,187.44 L128.35,188.26 L128.59,189.09 L128.84,189.92 L129.08,190.75 L129.33,191.58 L129.57,192.40 L129.82,193.23 L130.08,194.06 L130.33,194.88 L130.59,195.71 L130.84,196.53 L131.10,197.36 L131.37,198.19 L131.63,199.01 L131.90,199.84 L132.16,200.66 L132.44,201.49 L132.71,202.31 L132.98,203.13 L133.26,203.96 L133.54,204.78 L133.82,205.60 L134.11,206.43 L134.39,207.25 L134.68,208.07 L134.97,208.90 L135.26,209.72 L135.56,210.54 L135.86,211.36 L136.16,212.19 L136.46,213.01 L136.76,213.83 L137.07,214.65 L137.38,215.47 L137.69,216.29 L138.00,217.11 L138.32,217.93 L138.64,218.75 L138.96,219.57 L139.28,220.39 L139.61,221.21 L139.94,222.03 L140.27,222.85 L140.60,223.67 L140.94,224.49 L141.28,225.31 L141.62,226.12 L141.96,226.94 L142.31,227.76 L142.66,228.58 L143.01,229.40 L143.36,230.21 L143.72,231.03 L144.08,231.85 L144.44,232.66 L144.80,233.48 L145.17,234.30 L145.54,235.11 L145.91,235.93 L146.29,236.74 L146.66,237.56 L147.04,238.38 L147.43,239.19 L147.81,240.01 L148.20,240.82 L148.59,241.63 L148.99,242.45 L149.39,243.26 L149.79,244.08 L150.19,244.89 L150.59,245.70 L151.00,246.52 L151.41,247.33 L151.83,248.14 L152.24,248.96 L152.66,249.77 L153.09,250.58 L153.51,251.39 L153.94,252.21 L154.37,253.02 L154.81,253.83 L155.25,254.64 L155.69,255.45 L156.13,256.26 L156.58,257.08 L157.03,257.89 L157.48,258.70 L157.94,259.51 L158.40,260.32 L158.86,261.13 L159.32,261.94 L159.79,262.75 L160.26,263.56 L160.74,264.37 L161.21,265.18 L161.70,265.99 L162.18,266.79 L162.67,267.60 L163.16,268.41 L163.65,269.22 L164.15,270.03 L164.65,270.84 L165.15,271.64 L165.66,272.45 L166.17,273.26 L166.68,274.07 L167.19,274.87 L167.71,275.68 L168.23,276.49 L168.75,277.29 L169.28,278.10 L169.80,278.91 L170.33,279.71 L170.86,280.52 L171.39,281.33 L171.93,282.13 L172.46,282.94 L173.00,283.74 L173.54,284.55 L174.07,285.35 L174.61,286.16 L175.16,286.96 L175.70,287.76 L176.24,288.57 L176.78,289.37 L177.33,290.18 L177.87,290.98 L178.42,291.78 L178.96,292.59 L179.51,293.39 L180.05,294.19 L180.60,294.99 L181.14,295.80 L181.69,296.60 L182.23,297.40 L182.77,298.20 L183.32,299.00 L183.86,299.80 L184.40,300.60 L184.94,301.40 L185.48,302.20 L186.02,303.00 L186.55,303.80 L187.09,304.60 L187.62,305.40 L188.15,306.20 L188.68,307.00 L189.21,307.80 L189.73,308.60 L190.26,309.40 L190.78,310.20 L191.30,310.99 L191.81,311.79 L192.33,312.59 L192.84,313.39 L193.35,314.18 L193.85,314.98 L194.35,315.78 L194.85,316.57 L195.35,317.37 L195.84,318.16 L196.33,318.96 L196.81,319.76 L197.30,320.55 L197.77,321.35 L198.25,322.14 L198.72,322.93 L199.19,323.73 L199.66,324.52 L200.13,325.32 L200.60,326.11 L201.07,326.91 L201.54,327.70 L202.01,328.49 L202.48,329.29 L202.96,330.08 L203.44,330.88 L203.92,331.67 L204.40,332.47 L204.89,333.27 L205.39,334.06 L205.89,334.86 L206.39,335.66 L206.91,336.45 L207.42,337.25 L207.95,338.05 L208.49,338.85 L209.03,339.65 L209.58,340.45 L210.14,341.25 L210.72,342.05 L211.30,342.86 L211.89,343.66 L212.50,344.47 L213.12,345.27 L213.75,346.08 L214.39,346.89 L215.05,347.69 L215.72,348.50 L216.41,349.31 L217.11,350.13 L217.83,350.94 L218.56,351.75 L219.31,352.57 L220.08,353.39 L220.86,354.20 L221.67,355.02 L222.49,355.84 L223.34,356.67 L224.20,357.49 L225.08,358.32 L225.99,359.14 L226.91,359.95 L227.86,360.74 L228.84,361.51 L229.84,362.24 L230.87,362.92 L231.92,363.56 L233.01,364.14 L234.12,364.65 L235.27,365.09 L236.45,365.45 L237.66,365.71 L238.91,365.88 L240.19,365.94 L241.51,365.89 L242.85,365.73 L244.20,365.47 L245.54,365.11 L246.84,364.69 L248.08,364.19 L249.24,363.65 L250.32,363.06 L251.31,362.43 L252.24,361.76 L253.10,361.06 L253.90,360.32 L254.64,359.56 L255.34,358.77 L255.99,357.97 L256.61,357.15 L257.20,356.31 L257.76,355.46 L258.31,354.61 L258.84,353.76 L259.37,352.91 L259.89,352.06 L260.40,351.20 L260.91,350.35 L261.42,349.51 L261.91,348.66 L262.40,347.81 L262.89,346.97 L263.37,346.12 L263.85,345.28 L264.32,344.44 L264.78,343.59 L265.24,342.75 L265.70,341.91 L266.15,341.07 L266.59,340.24 L267.03,339.40 L267.47,338.56 L267.90,337.73 L268.32,336.89 L268.75,336.06 L269.17,335.22 L269.58,334.39 L269.99,333.56 L270.40,332.73 L270.80,331.90 L271.20,331.07 L271.59,330.24 L271.98,329.41 L272.37,328.58 L272.75,327.76 L273.14,326.93 L273.51,326.11 L273.89,325.28 L274.26,324.46 L274.63,323.63 L274.99,322.81 L275.36,321.99 L275.72,321.16 L276.07,320.34 L276.43,319.52 L276.78,318.70 L277.13,317.88 L277.48,317.06 L277.83,316.24 L278.17,315.42 L278.51,314.60 L278.85,313.78 L279.19,312.97 L279.53,312.15 L279.87,311.33 L280.20,310.51 L280.53,309.70 L280.86,308.88 L281.19,308.06 L281.52,307.25 L281.85,306.43 L282.18,305.62 L282.50,304.80 L282.83,303.99 L283.15,303.17 L283.48,302.36 L283.80,301.54 L284.12,300.73 L284.45,299.91 L284.77,299.10 L285.09,298.29 L285.42,297.47 L285.74,296.66 L286.06,295.84 L286.38,295.03 L286.71,294.22 L287.03,293.40 L287.36,292.59 L287.68,291.77 L288.01,290.96 L288.33,290.14 L288.66,289.33 L288.99,288.52 L289.32,287.70 L289.65,286.89 L289.98,286.07 L290.31,285.26 L290.65,284.44 L290.98,283.63 L291.32,282.81 L291.66,282.00 L292.00,281.18 L292.34,280.37 L292.68,279.55 L293.02,278.74 L293.37,277.92 L293.72,277.11 L294.06,276.30 L294.41,275.48 L294.76,274.67 L295.12,273.85 L295.47,273.04 L295.83,272.22 L296.19,271.41 L296.55,270.59 L296.91,269.78 L297.28,268.97 L297.65,268.15 L298.02,267.34 L298.39,266.52 L298.76,265.71 L299.14,264.90 L299.51,264.08 L299.89,263.27 L300.28,262.46 L300.66,261.64 L301.05,260.83 L301.44,260.02 L301.83,259.21 L302.23,258.40 L302.63,257.58 L303.03,256.77 L303.43,255.96 L303.84,255.15 L304.25,254.34 L304.66,253.53 L305.08,252.72 L305.49,251.91 L305.92,251.10 L306.34,250.29 L306.77,249.48 L307.20,248.67 L307.63,247.86 L308.07,247.05 L308.51,246.25 L308.95,245.44 L309.40,244.63 L309.85,243.82 L310.30,243.02 L310.76,242.21 L311.22,241.40 L311.69,240.60 L312.15,239.79 L312.63,238.99 L313.10,238.19 L313.58,237.38 L314.06,236.58 L314.55,235.78 L315.04,234.97 L315.54,234.17 L316.04,233.37 L316.54,232.57 L317.05,231.77 L317.56,230.97 L318.07,230.17 L318.59,229.37 L319.12,228.57 L319.65,227.77 L320.18,226.97 L320.72,226.18 L321.26,225.38 L321.80,224.58 L322.36,223.79 L322.91,222.99 L323.47,222.20 L324.04,221.41 L324.60,220.61 L325.18,219.82 L325.76,219.03 L326.34,218.24 L326.93,217.45 L327.52,216.66 L328.12,215.87 L328.73,215.08 L329.34,214.29 L329.95,213.50 L330.57,212.71 L331.19,211.93 L331.82,211.14 L332.46,210.36 L333.10,209.57 L333.74,208.79 L334.40,208.01 L335.05,207.22 L335.71,206.44 L336.38,205.66 L337.06,204.88 L337.73,204.10 L338.42,203.33 L339.11,202.55 L339.81,201.77 L340.51,200.99 L341.22,200.22 L341.93,199.45 L342.65,198.67 L343.38,197.90 L344.11,197.13 L344.85,196.36 L345.59,195.59 L346.34,194.82 L347.10,194.05 L347.86,193.28 L348.63,192.51 L349.41,191.75 L350.19,190.98 L350.98,190.22 L351.78,189.45 L352.58,188.69 L353.39,187.93 L354.20,187.17 L355.02,186.41 L355.85,185.65 L356.69,184.89 L357.53,184.14 L358.38,183.38 L359.24,182.63 L360.10,181.88 L360.97,181.12 L361.85,180.37 L362.73,179.63 L363.63,178.88 L364.53,178.13 L365.43,177.39 L366.35,176.65 L367.27,175.91 L368.20,175.17 L369.14,174.44 L370.08,173.71 L371.03,172.98 L371.99,172.25 L372.96,171.52 L373.94,170.80 L374.92,170.08 L375.91,169.36 L376.91,168.64 L377.92,167.93 L378.93,167.22 L379.96,166.51 L380.99,165.81 L382.03,165.11 L383.08,164.41 L384.14,163.72 L385.20,163.03 L386.28,162.34 L387.36,161.65 L388.45,160.97 L389.55,160.30 L390.66,159.62 L391.78,158.95 L392.91,158.29 L394.05,157.62 L395.19,156.97 L396.34,156.31 L397.51,155.66 L398.68,155.02 L399.86,154.38 L401.05,153.74 L402.25,153.11 L403.46,152.48 L404.68,151.85 L405.91,151.23 L407.15,150.62 L408.39,150.01 L409.65,149.41 L410.92,148.81 L412.19,148.21 L413.48,147.62 L414.78,147.04 L416.08,146.46 L417.40,145.88 L418.73,145.32 L420.06,144.75 L421.41,144.20 L422.77,143.64 L424.13,143.10 L425.51,142.56 L426.90,142.02 L428.30,141.49 L429.71,140.97 L431.13,140.45 L432.56,139.94 L434.00,139.44 L435.45,138.94 L436.90,138.45 L438.37,137.96 L439.85,137.48 L441.34,137.00 L442.84,136.53 L444.35,136.07 L445.87,135.61 L447.39,135.16 L448.93,134.71 L450.47,134.27 L452.02,133.83 L453.58,133.40 L455.15,132.98 L456.73,132.55 L458.32,132.14 L459.91,131.73 L461.51,131.33 L463.12,130.93 L464.74,130.53 L466.36,130.14 L467.99,129.76 L469.63,129.38 L471.28,129.00 L472.93,128.63 L474.59,128.27 L476.26,127.91 L477.93,127.56 L479.61,127.21 L481.29,126.86 L482.99,126.52 L484.68,126.18 L486.39,125.85 L488.10,125.53 L489.81,125.20 L491.53,124.89 L493.26,124.57 L494.99,124.26 L496.72,123.96 L498.47,123.66 L500.21,123.36 L501.96,123.07 L503.72,122.78 L505.48,122.50 L507.24,122.22 L509.01,121.94 L510.78,121.67 L512.56,121.40 L514.34,121.14 L516.12,120.88 L517.91,120.63 L519.70,120.37 L521.49,120.13 L523.29,119.88 L525.09,119.64 L526.89,119.40 L528.70,119.17 L530.50,118.94 L532.31,118.71 L534.13,118.49 L535.94,118.27 L537.76,118.06 L539.58,117.84 L541.40,117.63 L543.22,117.43 L545.04,117.23 L546.87,117.03 L548.70,116.83 L550.52,116.64 L552.35,116.45 L554.18,116.26 L556.01,116.08 L557.84,115.89 L559.68,115.72 L561.51,115.54 L563.34,115.37 L565.17,115.20 L567.00,115.03 L568.84,114.87 L570.67,114.71 L572.50,114.55 L574.33,114.39 L576.16,114.24 L577.99,114.09 L579.83,113.94 L581.66,113.79 L583.49,113.65 L585.32,113.51 L587.15,113.37 L588.98,113.23 L590.81,113.10 L592.65,112.97 L594.48,112.84 L596.31,112.71 L598.14,112.59 L599.97,112.47 L601.80,112.35 L603.64,112.23 L605.47,112.12 L607.30,112.00 L609.13,111.89 L610.96,111.78 L612.80,111.68 L614.63,111.57 L616.46,111.47 L618.30,111.37 L620.13,111.27 L621.96,111.18 L623.80,111.08 L625.63,110.99 L627.47,110.90 L629.30,110.81 L631.14,110.72 L632.97,110.64 L634.81,110.56 L636.64,110.47 L638.48,110.39 L640.32,110.32 L642.15,110.24 L643.99,110.17 L645.83,110.09 L647.67,110.02 L649.51,109.95 L651.34,109.89 L653.18,109.82 L655.02,109.75 L656.86,109.69 L658.71,109.63 L660.55,109.57 L662.39,109.51 L664.23,109.45 L666.08,109.40 L667.92,109.34 L669.76,109.29 L671.61,109.24 L673.45,109.19 L675.30,109.14 L677.15,109.09 L678.99,109.04 L680.84,109.00 L682.69,108.95 L684.54,108.91 L686.39,108.86 L688.24,108.82 L690.09,108.78 L691.94,108.74 L693.80,108.71 L695.65,108.67 L697.51,108.63 L699.36,108.60 L701.22,108.56 L703.07,108.53 L704.93,108.50 L706.79,108.46 L708.65,108.43 L710.51,108.40 L712.37,108.37 L714.23,108.34 L716.10,108.32 L717.96,108.29 L719.82,108.26 L721.69,108.24 L723.56,108.21 L725.42,108.18 L727.29,108.16 L729.16,108.14 L731.03,108.11 L732.90,108.09 L734.78,108.07 L736.65,108.05 L738.52,108.02 L740.40,108.00 L742.28,107.98" stroke="#00ffff" stroke-width="2.45" stroke-linejoin="round" stroke-dasharray="9.56,2.00,1.78,2.22"/>
<path d="M122.59,5.01 L122.70,5.84 L122.82,6.68 L122.93,7.51 L123.04,8.34 L123.15,9.17 L123.26,10.01 L123.37,10.84 L123.48,11.67 L123.59,12.50 L123.70,13.34 L123.81,14.17 L123.92,15.00 L124.03,15.83 L124.14,16.67 L124.25,17.50 L124.35,18.33 L124.46,19.16 L124.57,20.00 L124.68,20.83 L124.78,21.66 L124.89,22.49 L125.00,23.33 L125.10,24.16 L125.21,24.99 L125.32,25.83 L125.42,26.66 L125.53,27.49 L125.63,28.33 L125.74,29.16 L125.84,29.99 L125.95,30.82 L126.05,31.66 L126.16,32.49 L126.26,33.32 L126.37,34.16 L126.47,34.99 L126.58,35.82 L126.68,36.66 L126.79,37.49 L126.89,38.32 L127.00,39.16 L127.10,39.99 L127.21,40.82 L127.31,41.66 L127.42,42.49 L127.52,43.32 L127.63,44.15 L127.73,44.99 L127.84,45.82 L127.94,46.65 L128.05,47.49 L128.15,48.32 L128.26,49.15 L128.36,49.99 L128.47,50.82 L128.58,51.65 L128.68,52.49 L128.79,53.32 L128.90,54.15 L129.00,54.99 L129.11,55.82 L129.22,56.66 L129.32,57.49 L129.43,58.32 L129.54,59.16 L129.65,59.99 L129.76,60.82 L129.86,61.66 L129.97,62.49 L130.08,63.32 L130.19,64.16 L130.30,64.99 L130.41,65.82 L130.52,66.66 L130.63,67.49 L130.75,68.32 L130.86,69.16 L130.97,69.99 L131.08,70.82 L131.20,71.66 L131.31,72.49 L131.42,73.32 L131.54,74.16 L131.65,74.99 L131.77,75.82 L131.88,76.66 L132.00,77.49 L132.11,78.32 L132.23,79.16 L132.35,79.99 L132.47,80.82 L132.59,81.66 L132.70,82.49 L132.82,83.32 L132.94,84.16 L133.07,84.99 L133.19,85.82 L133.31,86.66 L133.43,87.49 L133.55,88.32 L133.68,89.16 L133.80,89.99 L133.93,90.82 L134.05,91.65 L134.18,92.49 L134.31,93.32 L134.44,94.15 L134.56,94.99 L134.69,95.82 L134.82,96.65 L134.95,97.49 L135.09,98.32 L135.22,99.15 L135.35,99.98 L135.48,100.82 L135.62,101.65 L135.75,102.48 L135.89,103.32 L136.03,104.15 L136.16,104.98 L136.30,105.81 L136.44,106.65 L136.58,107.48 L136.72,108.31 L136.87,109.14 L137.01,109.98 L137.15,110.81 L137.30,111.64 L137.44,112.47 L137.59,113.31 L137.74,114.14 L137.88,114.97 L138.03,115.80 L138.18,116.64 L138.34,117.47 L138.49,118.30 L138.64,119.13 L138.80,119.97 L138.95,120.80 L139.11,121.63 L139.26,122.46 L139.42,123.29 L139.58,124.13 L139.74,124.96 L139.90,125.79 L140.07,126.62 L140.23,127.45 L140.40,128.28 L140.56,129.12 L140.73,129.95 L140.90,130.78 L141.07,131.61 L141.24,132.44 L141.41,133.27 L141.58,134.11 L141.75,134.94 L141.93,135.77 L142.10,136.60 L142.28,137.43 L142.46,138.26 L142.64,139.09 L142.82,139.92 L143.00,140.76 L143.18,141.59 L143.37,142.42 L143.55,143.25 L143.74,144.08 L143.93,144.91 L144.12,145.74 L144.31,146.57 L144.50,147.40 L144.69,148.23 L144.88,149.06 L145.08,149.89 L145.27,150.72 L145.47,151.55 L145.67,152.38 L145.87,153.21 L146.07,154.04 L146.27,154.87 L146.48,155.70 L146.68,156.53 L146.89,157.36 L147.09,158.19 L147.30,159.02 L147.51,159.85 L147.73,160.68 L147.94,161.51 L148.15,162.34 L148.37,163.17 L148.58,164.00 L148.80,164.82 L149.02,165.65 L149.24,166.48 L149.46,167.31 L149.69,168.14 L149.91,168.97 L150.14,169.80 L150.37,170.62 L150.60,171.45 L150.83,172.28 L151.06,173.11 L151.29,173.94 L151.53,174.76 L151.76,175.59 L152.00,176.42 L152.24,177.25 L152.48,178.07 L152.72,178.90 L152.96,179.73 L153.21,180.56 L153.45,181.38 L153.70,182.21 L153.95,183.04 L154.20,183.86 L154.45,184.69 L154.71,185.52 L154.96,186.34 L155.22,187.17 L155.47,188.00 L155.73,188.82 L156.00,189.65 L156.26,190.47 L156.52,191.30 L156.79,192.13 L157.05,192.95 L157.32,193.78 L157.59,194.60 L157.87,195.43 L158.14,196.25 L158.41,197.08 L158.69,197.90 L158.97,198.73 L159.25,199.55 L159.53,200.38 L159.81,201.20 L160.10,202.02 L160.38,202.85 L160.67,203.67 L160.96,204.50 L161.25,205.32 L161.54,206.14 L161.84,206.97 L162.13,207.79 L162.43,208.61 L162.73,209.44 L163.03,210.26 L163.33,211.08 L163.64,211.90 L163.94,212.73 L164.25,213.55 L164.56,214.37 L164.87,215.19 L165.18,216.02 L165.50,216.84 L165.82,217.66 L166.13,218.48 L166.45,219.30 L166.77,220.12 L167.10,220.94 L167.42,221.77 L167.75,222.59 L168.08,223.41 L168.41,224.23 L168.74,225.05 L169.07,225.87 L169.41,226.69 L169.75,227.51 L170.08,228.33 L170.43,229.15 L170.77,229.97 L171.11,230.79 L171.46,231.61 L171.81,232.43 L172.16,233.24 L172.51,234.06 L172.86,234.88 L173.22,235.70 L173.58,236.52 L173.94,237.34 L174.30,238.15 L174.66,238.97 L175.02,239.79 L175.39,240.61 L175.76,241.42 L176.13,242.24 L176.50,243.06 L176.88,243.87 L177.25,244.69 L177.63,245.51 L178.01,246.32 L178.39,247.14 L178.78,247.96 L179.16,248.77 L179.55,249.59 L179.94,250.40 L180.33,251.22 L180.73,252.03 L181.12,252.85 L181.52,253.66 L181.92,254.48 L182.32,255.29 L182.73,256.10 L183.13,256.92 L183.54,257.73 L183.95,258.55 L184.36,259.36 L184.78,260.17 L185.19,260.98 L185.61,261.80 L186.03,262.61 L186.45,263.42 L186.88,264.23 L187.30,265.05 L187.73,265.86 L188.16,266.67 L188.60,267.48 L189.03,268.29 L189.47,269.10 L189.91,269.91 L190.35,270.72 L190.79,271.54 L191.24,272.35 L191.68,273.16 L192.13,273.97 L192.58,274.78 L193.04,275.58 L193.49,276.39 L193.95,277.20 L194.41,278.01 L194.87,278.82 L195.34,279.63 L195.81,280.44 L196.27,281.24 L196.75,282.05 L197.22,282.86 L197.69,283.67 L198.17,284.47 L198.65,285.28 L199.13,286.09 L199.62,286.89 L200.11,287.70 L200.59,288.51 L201.09,289.31 L201.58,290.12 L202.07,290.92 L202.57,291.73 L203.07,292.53 L203.58,293.34 L204.08,294.14 L204.59,294.95 L205.10,295.75 L205.61,296.55 L206.12,297.36 L206.64,298.16 L207.16,298.96 L207.68,299.77 L208.20,300.57 L208.73,301.37 L209.25,302.17 L209.79,302.98 L210.32,303.78 L210.85,304.58 L211.39,305.38 L211.93,306.18 L212.47,306.98 L213.02,307.78 L213.56,308.58 L214.11,309.38 L214.66,310.18 L215.22,310.98 L215.78,311.78 L216.33,312.58 L216.90,313.38 L217.46,314.18 L218.03,314.98 L218.59,315.78 L219.17,316.57 L219.74,317.37 L220.32,318.17 L220.89,318.97 L221.48,319.76 L222.06,320.56 L222.65,321.35 L223.23,322.15 L223.83,322.95 L224.42,323.74 L225.02,324.54 L225.63,325.33 L226.24,326.12 L226.85,326.91 L227.47,327.70 L228.10,328.49 L228.73,329.28 L229.37,330.07 L230.02,330.86 L230.67,331.64 L231.33,332.43 L232.00,333.21 L232.68,333.99 L233.36,334.77 L234.06,335.55 L234.76,336.33 L235.47,337.10 L236.20,337.87 L236.93,338.64 L237.67,339.41 L238.43,340.18 L239.19,340.94 L239.97,341.70 L240.76,342.46 L241.56,343.22 L242.38,343.97 L243.21,344.73 L244.05,345.48 L244.90,346.22 L245.77,346.97 L246.66,347.71 L247.55,348.45 L248.47,349.18 L249.40,349.91 L250.34,350.64 L251.30,351.36 L252.29,352.06 L253.29,352.72 L254.33,353.31 L255.40,353.82 L256.51,354.23 L257.65,354.51 L258.85,354.65 L260.09,354.64 L261.35,354.49 L262.62,354.21 L263.86,353.82 L265.05,353.35 L266.17,352.80 L267.20,352.19 L268.15,351.53 L269.01,350.82 L269.81,350.07 L270.53,349.28 L271.20,348.47 L271.82,347.63 L272.40,346.76 L272.94,345.89 L273.46,345.00 L273.95,344.10 L274.43,343.21 L274.91,342.32 L275.37,341.43 L275.83,340.55 L276.29,339.68 L276.73,338.80 L277.18,337.93 L277.61,337.07 L278.04,336.20 L278.46,335.34 L278.88,334.49 L279.29,333.64 L279.70,332.79 L280.10,331.94 L280.49,331.10 L280.88,330.26 L281.27,329.42 L281.65,328.59 L282.02,327.76 L282.39,326.93 L282.76,326.10 L283.12,325.27 L283.48,324.45 L283.83,323.63 L284.18,322.81 L284.52,321.99 L284.86,321.18 L285.20,320.37 L285.53,319.55 L285.86,318.74 L286.18,317.93 L286.51,317.12 L286.82,316.32 L287.14,315.51 L287.45,314.71 L287.76,313.90 L288.07,313.10 L288.37,312.30 L288.68,311.49 L288.97,310.69 L289.27,309.89 L289.57,309.09 L289.86,308.29 L290.15,307.48 L290.44,306.68 L290.72,305.88 L291.01,305.08 L291.29,304.27 L291.58,303.47 L291.86,302.67 L292.14,301.86 L292.41,301.06 L292.69,300.25 L292.97,299.44 L293.25,298.63 L293.52,297.82 L293.79,297.01 L294.07,296.20 L294.34,295.39 L294.61,294.57 L294.89,293.76 L295.16,292.94 L295.43,292.13 L295.70,291.31 L295.97,290.49 L296.24,289.67 L296.51,288.85 L296.78,288.03 L297.05,287.21 L297.32,286.39 L297.58,285.57 L297.85,284.74 L298.12,283.92 L298.39,283.09 L298.66,282.27 L298.93,281.44 L299.19,280.61 L299.46,279.79 L299.73,278.96 L300.00,278.13 L300.27,277.30 L300.54,276.47 L300.81,275.64 L301.08,274.81 L301.35,273.98 L301.62,273.15 L301.89,272.31 L302.16,271.48 L302.43,270.65 L302.71,269.82 L302.98,268.98 L303.25,268.15 L303.53,267.31 L303.80,266.48 L304.08,265.64 L304.36,264.81 L304.63,263.97 L304.91,263.14 L305.19,262.30 L305.47,261.47 L305.76,260.63 L306.04,259.80 L306.32,258.96 L306.61,258.12 L306.89,257.29 L307.18,256.45 L307.47,255.62 L307.76,254.78 L308.05,253.94 L308.34,253.11 L308.64,252.27 L308.93,251.44 L309.23,250.60 L309.53,249.77 L309.83,248.93 L310.13,248.09 L310.43,247.26 L310.74,246.42 L311.04,245.59 L311.35,244.76 L311.66,243.92 L311.98,243.09 L312.29,242.25 L312.61,241.42 L312.92,240.59 L313.24,239.76 L313.57,238.92 L313.89,238.09 L314.22,237.26 L314.54,236.43 L314.87,235.60 L315.21,234.77 L315.54,233.94 L315.88,233.11 L316.22,232.29 L316.56,231.46 L316.91,230.63 L317.25,229.81 L317.60,228.98 L317.95,228.15 L318.31,227.33 L318.67,226.51 L319.03,225.68 L319.39,224.86 L319.75,224.04 L320.12,223.22 L320.49,222.40 L320.86,221.58 L321.23,220.76 L321.61,219.94 L321.99,219.12 L322.37,218.30 L322.75,217.49 L323.14,216.67 L323.53,215.85 L323.92,215.04 L324.31,214.22 L324.71,213.41 L325.10,212.59 L325.50,211.78 L325.91,210.97 L326.31,210.15 L326.72,209.34 L327.13,208.53 L327.54,207.72 L327.95,206.91 L328.37,206.10 L328.78,205.29 L329.20,204.48 L329.63,203.67 L330.05,202.86 L330.48,202.06 L330.91,201.25 L331.34,200.44 L331.77,199.63 L332.21,198.83 L332.64,198.02 L333.08,197.22 L333.52,196.41 L333.97,195.61 L334.41,194.80 L334.86,194.00 L335.31,193.20 L335.76,192.39 L336.21,191.59 L336.67,190.79 L337.13,189.99 L337.59,189.18 L338.05,188.38 L338.51,187.58 L338.98,186.78 L339.45,185.98 L339.91,185.18 L340.39,184.38 L340.86,183.58 L341.33,182.78 L341.81,181.98 L342.29,181.19 L342.77,180.39 L343.25,179.59 L343.74,178.79 L344.22,177.99 L344.71,177.20 L345.20,176.40 L345.69,175.60 L346.19,174.80 L346.68,174.01 L347.18,173.21 L347.68,172.42 L348.18,171.62 L348.68,170.82 L349.19,170.03 L349.69,169.23 L350.20,168.44 L350.71,167.64 L351.22,166.85 L351.73,166.05 L352.25,165.26 L352.76,164.46 L353.28,163.67 L353.80,162.88 L354.32,162.08 L354.84,161.29 L355.37,160.49 L355.89,159.70 L356.42,158.91 L356.95,158.11 L357.48,157.32 L358.01,156.53 L358.54,155.73 L359.08,154.94 L359.61,154.15 L360.15,153.35 L360.69,152.56 L361.23,151.77 L361.77,150.98 L362.32,150.18 L362.86,149.39 L363.41,148.60 L363.96,147.80 L364.51,147.01 L365.06,146.22 L365.61,145.42 L366.16,144.63 L366.72,143.84 L367.27,143.05 L367.83,142.25 L368.39,141.46 L368.95,140.67 L369.51,139.87 L370.08,139.08 L370.64,138.29 L371.21,137.49 L371.77,136.70 L372.34,135.91 L372.91,135.11 L373.48,134.32 L374.05,133.52 L374.63,132.73 L375.20,131.94 L375.78,131.14 L376.35,130.35 L376.93,129.55 L377.51,128.76 L378.09,127.96 L378.67,127.17 L379.25,126.37 L379.84,125.58 L380.42,124.78 L381.01,123.99 L381.59,123.19 L382.18,122.40 L382.77,121.60 L383.36,120.80 L383.95,120.01 L384.54,119.21 L385.14,118.41 L385.73,117.62 L386.33,116.82 L386.92,116.02 L387.52,115.22 L388.12,114.42 L388.72,113.63 L389.32,112.83 L389.92,112.03 L390.52,111.23 L391.12,110.43 L391.72,109.63 L392.33,108.83 L392.93,108.03 L393.54,107.23 L394.15,106.43 L394.76,105.62 L395.36,104.82 L395.97,104.02 L396.58,103.22 L397.20,102.41 L397.81,101.61 L398.42,100.81 L399.03,100.00 L399.65,99.20 L400.26,98.39 L400.88,97.59 L401.50,96.78 L402.12,95.98 L402.75,95.18 L403.37,94.37 L404.01,93.57 L404.64,92.77 L405.28,91.97 L405.92,91.17 L406.57,90.37 L407.22,89.57 L407.88,88.78 L408.55,87.98 L409.22,87.19 L409.90,86.40 L410.59,85.61 L411.28,84.83 L411.98,84.05 L412.69,83.27 L413.41,82.49 L414.14,81.71 L414.88,80.94 L415.62,80.17 L416.38,79.41 L417.15,78.65 L417.93,77.89 L418.72,77.14 L419.52,76.39 L420.34,75.64 L421.16,74.90 L422.00,74.16 L422.86,73.43 L423.72,72.70 L424.60,71.98 L425.50,71.26 L426.41,70.55 L427.33,69.84 L428.27,69.14 L429.23,68.44 L430.20,67.75 L431.19,67.06 L432.20,66.39 L433.22,65.71 L434.26,65.05 L435.32,64.39 L436.40,63.73 L437.50,63.09 L438.62,62.45 L439.75,61.82 L440.91,61.19 L442.09,60.57 L443.28,59.96 L444.50,59.36 L445.74,58.76 L447.01,58.18 L448.29,57.60 L449.60,57.03 L450.93,56.47 L452.28,55.91 L453.66,55.37 L455.06,54.83 L456.49,54.31 L457.94,53.79 L459.42,53.28 L460.92,52.78 L462.44,52.29 L463.99,51.82 L465.56,51.36 L467.15,50.91 L468.76,50.47 L470.38,50.06 L472.02,49.66 L473.68,49.27 L475.36,48.91 L477.04,48.57 L478.74,48.24 L480.45,47.94 L482.17,47.66 L483.90,47.41 L485.63,47.18 L487.38,46.97 L489.12,46.79 L490.88,46.64 L492.63,46.52 L494.39,46.43 L496.15,46.37 L497.91,46.34 L499.67,46.34 L501.43,46.36 L503.19,46.42 L504.94,46.50 L506.70,46.61 L508.46,46.74 L510.22,46.89 L511.98,47.07 L513.74,47.26 L515.50,47.48 L517.26,47.71 L519.02,47.96 L520.78,48.23 L522.54,48.52 L524.30,48.81 L526.05,49.12 L527.81,49.45 L529.57,49.78 L531.33,50.12 L533.08,50.48 L534.84,50.84 L536.59,51.20 L538.35,51.57 L540.10,51.95 L541.86,52.33 L543.61,52.71 L545.36,53.09 L547.11,53.47 L548.87,53.85 L550.62,54.23 L552.37,54.60 L554.11,54.98 L555.86,55.34 L557.61,55.70 L559.36,56.06 L561.10,56.42 L562.85,56.77 L564.59,57.12 L566.34,57.46 L568.08,57.80 L569.82,58.14 L571.57,58.47 L573.31,58.80 L575.05,59.12 L576.79,59.44 L578.54,59.76 L580.28,60.08 L582.02,60.39 L583.76,60.70 L585.50,61.00 L587.24,61.31 L588.98,61.60 L590.72,61.90 L592.46,62.19 L594.20,62.48 L595.94,62.77 L597.68,63.05 L599.43,63.33 L601.17,63.61 L602.91,63.89 L604.65,64.16 L606.39,64.43 L608.13,64.69 L609.88,64.96 L611.62,65.22 L613.36,65.48 L615.11,65.73 L616.85,65.99 L618.60,66.24 L620.34,66.49 L622.09,66.74 L623.83,66.98 L625.58,67.22 L627.33,67.46 L629.08,67.70 L630.83,67.94 L632.58,68.17 L634.33,68.40 L636.08,68.63 L637.84,68.86 L639.59,69.08 L641.34,69.31 L643.10,69.53 L644.86,69.75 L646.62,69.97 L648.38,70.18 L650.14,70.40 L651.90,70.61 L653.66,70.83 L655.43,71.04 L657.19,71.24 L658.96,71.45 L660.73,71.66 L662.50,71.86 L664.27,72.07 L666.04,72.27 L667.82,72.47 L669.59,72.67 L671.37,72.87 L673.15,73.07 L674.93,73.26 L676.72,73.46 L678.50,73.65 L680.29,73.85 L682.07,74.04 L683.86,74.23 L685.66,74.42 L687.45,74.61 L689.25,74.80 L691.05,74.99 L692.85,75.18 L694.65,75.37 L696.45,75.56 L698.26,75.74 L700.07,75.93 L701.88,76.12 L703.69,76.30 L705.51,76.49 L707.32,76.67 L709.14,76.86 L710.97,77.04 L712.79,77.23 L714.62,77.41 L716.45,77.60 L718.28,77.78 L720.12,77.97 L721.95,78.15 L723.79,78.33 L725.64,78.52 L727.48,78.71 L729.33,78.89 L731.18,79.08 L733.04,79.26 L734.90,79.45 L736.76,79.64 L738.62,79.82 L740.48,80.01 L742.35,80.20" stroke="#000000" stroke-width="1.95" stroke-linejoin="round" stroke-dasharray="3.22,4.33"/>
</g>
<g transform="scale(0.4500,1)" fill="none">
<path d="M580.67,346.30 H702.00" stroke="#000000" stroke-width="2.80" stroke-dasharray="3.33,1.78,3.33,6.44"/>
<path d="M580.67,363.00 H702.00" stroke="#00ffff" stroke-width="2.80" stroke-dasharray="9.56,2.00,1.78,2.22"/>
<path d="M580.67,380.20 H702.00" stroke="#ff00ff" stroke-width="3.00" stroke-dasharray="1.89,1.89"/>
<path d="M580.67,396.50 H702.00" stroke="#0000ff" stroke-width="3.00" stroke-dasharray="3.44,4.18"/>
<path d="M580.67,413.30 H702.00" stroke="#00ff00" stroke-width="3.10" stroke-dasharray="6.00,3.78"/>
<path d="M580.67,429.70 H702.00" stroke="#ff0000" stroke-width="3.30"/>
</g>
<g stroke="#000" fill="none">
<path d="M55.02,23.20 H333.88" stroke-width="1.5"/>
<path d="M55.02,441.30 H333.88" stroke-width="1.25"/>
<path d="M55.50,23.20 V441.30 M333.40,23.20 V441.30" stroke-width="0.95"/>
<path d="M55.50,412.02 h4.40 M333.40,412.02 h-4.40 M55.50,314.77 h4.40 M333.40,314.77 h-4.40 M55.50,217.51 h4.40 M333.40,217.51 h-4.40 M55.50,120.26 h4.40 M333.40,120.26 h-4.40 M55.50,421.45 h2.30 M333.40,421.45 h-2.30 M55.50,382.75 h2.30 M333.40,382.75 h-2.30 M55.50,344.04 h2.30 M333.40,344.04 h-2.30 M55.50,324.19 h2.30 M333.40,324.19 h-2.30 M55.50,285.49 h2.30 M333.40,285.49 h-2.30 M55.50,246.79 h2.30 M333.40,246.79 h-2.30 M55.50,226.94 h2.30 M333.40,226.94 h-2.30 M55.50,188.23 h2.30 M333.40,188.23 h-2.30 M55.50,149.53 h2.30 M333.40,149.53 h-2.30 M55.50,129.68 h2.30 M333.40,129.68 h-2.30 M55.50,90.98 h2.30 M333.40,90.98 h-2.30 M55.50,52.28 h2.30 M333.40,52.28 h-2.30 M55.50,32.43 h2.30 M333.40,32.43 h-2.30 " stroke-width="1.3"/>
<path d="M125.05,441.30 v-8.60 M125.05,23.20 v8.60 M194.50,441.30 v-8.60 M194.50,23.20 v8.60 M263.95,441.30 v-8.60 M263.95,23.20 v8.60 " stroke-width="0.8" stroke="#222"/>
</g>
<path transform="translate(29.01,30.00) scale(0.00454,-0.00962)" d="M515 0V1237L197 1010V1180L530 1409H696V0Z" fill="#000" stroke="#000" stroke-width="18.7"/><text transform="translate(34.19,30.00) scale(0.472,1)" font-size="19.70" text-anchor="start">000</text>
<path transform="translate(34.19,127.26) scale(0.00454,-0.00962)" d="M515 0V1237L197 1010V1180L530 1409H696V0Z" fill="#000" stroke="#000" stroke-width="18.7"/><text transform="translate(39.36,127.26) scale(0.472,1)" font-size="19.70" text-anchor="start">00</text>
<path transform="translate(39.36,224.51) scale(0.00454,-0.00962)" d="M515 0V1237L197 1010V1180L530 1409H696V0Z" fill="#000" stroke="#000" stroke-width="18.7"/><text transform="translate(44.53,224.51) scale(0.472,1)" font-size="19.70" text-anchor="start">0</text>
<path transform="translate(44.53,321.77) scale(0.00454,-0.00962)" d="M515 0V1237L197 1010V1180L530 1409H696V0Z" fill="#000" stroke="#000" stroke-width="18.7"/>
<text transform="translate(36.77,419.02) scale(0.472,1)" font-size="19.70" text-anchor="start">0.</text><path transform="translate(44.53,419.02) scale(0.00454,-0.00962)" d="M515 0V1237L197 1010V1180L530 1409H696V0Z" fill="#000" stroke="#000" stroke-width="18.7"/>
<path transform="translate(49.04,468.00) scale(0.00454,-0.00962)" d="M515 0V1237L197 1010V1180L530 1409H696V0Z" fill="#000" stroke="#000" stroke-width="18.7"/><text transform="translate(54.21,468.00) scale(0.472,1)" font-size="19.70" text-anchor="start">00</text>
<path transform="translate(118.49,468.00) scale(0.00454,-0.00962)" d="M515 0V1237L197 1010V1180L530 1409H696V0Z" fill="#000" stroke="#000" stroke-width="18.7"/><text transform="translate(123.66,468.00) scale(0.472,1)" font-size="19.70" text-anchor="start">50</text>
<text transform="translate(187.94,468.00) scale(0.472,1)" font-size="19.70" text-anchor="start">200</text>
<text transform="translate(257.39,468.00) scale(0.472,1)" font-size="19.70" text-anchor="start">250</text>
<text transform="translate(326.84,468.00) scale(0.472,1)" font-size="19.70" text-anchor="start">300</text>
<text transform="translate(162.40,495.70) scale(0.505,1)" font-size="26.80" text-anchor="start">M</text><text transform="translate(173.67,501.70) scale(0.505,1)" font-size="22.51" text-anchor="start">H</text><text transform="translate(181.88,493.10) scale(0.505,1)" font-size="16.62" text-anchor="start">+</text><text transform="translate(186.78,495.70) scale(0.505,1)" font-size="26.80" text-anchor="start">&#160;(GeV)</text>
<text transform="translate(14.5,232) scale(0.43,1) rotate(-90)" font-size="28.2" text-anchor="middle" stroke="none">σ (fb)</text>
<text transform="translate(236.40,288.80) scale(0.475,1)" font-size="17.30" text-anchor="start">tan&#160;β=50&#160;&#160;M</text><text transform="translate(280.18,293.60) scale(0.475,1)" font-size="13.84" text-anchor="start">U</text><text transform="translate(284.93,297.80) scale(0.475,1)" font-size="11.07" text-anchor="start">3</text><text transform="translate(287.86,288.80) scale(0.475,1)" font-size="17.30" text-anchor="start">=250&#160;GeV</text>
<text transform="translate(236.40,320.30) scale(0.475,1)" font-size="17.30" text-anchor="start">μ=</text><path transform="translate(245.93,320.30) scale(0.00401,-0.00845)" d="M515 0V1237L197 1010V1180L530 1409H696V0Z" fill="#000" stroke="#000" stroke-width="21.3"/><text transform="translate(250.50,320.30) scale(0.475,1)" font-size="17.30" text-anchor="start">&#160;TeV</text>
<text transform="translate(273.60,320.30) scale(0.475,1)" font-size="17.30" text-anchor="start">A</text><text transform="translate(279.08,325.10) scale(0.475,1)" font-size="13.84" text-anchor="start">f</text><text transform="translate(280.91,320.30) scale(0.475,1)" font-size="17.30" text-anchor="start">=</text><path transform="translate(285.71,320.30) scale(0.00401,-0.00845)" d="M515 0V1237L197 1010V1180L530 1409H696V0Z" fill="#000" stroke="#000" stroke-width="21.3"/><text transform="translate(290.28,320.30) scale(0.475,1)" font-size="17.30" text-anchor="start">&#160;TeV</text>
<text transform="translate(217.70,352.00) scale(0.520,1)" font-size="17.32" text-anchor="start">φ</text>
<text transform="translate(222.40,356.90) scale(0.680,1)" font-size="11.55" text-anchor="start">μ</text>
<text transform="translate(231.70,353.30) scale(0.475,1)" font-size="15.67" text-anchor="middle">=</text>
<path transform="translate(236.50,352.30) scale(0.00383,-0.00806)" d="M515 0V1237L197 1010V1180L530 1409H696V0Z" fill="#000" stroke="#000" stroke-width="22.3"/><text transform="translate(240.86,352.30) scale(0.475,1)" font-size="16.50" text-anchor="start">80</text>
<text transform="translate(250.07,344.60) scale(0.520,1)" font-size="14.19" text-anchor="start">o</text>
<text transform="translate(217.70,368.70) scale(0.520,1)" font-size="17.32" text-anchor="start">φ</text>
<text transform="translate(222.40,373.60) scale(0.680,1)" font-size="11.55" text-anchor="start">μ</text>
<text transform="translate(231.70,370.00) scale(0.475,1)" font-size="15.67" text-anchor="middle">=</text>
<path transform="translate(236.50,369.00) scale(0.00383,-0.00806)" d="M515 0V1237L197 1010V1180L530 1409H696V0Z" fill="#000" stroke="#000" stroke-width="22.3"/><text transform="translate(240.86,369.00) scale(0.475,1)" font-size="16.50" text-anchor="start">40</text>
<text transform="translate(250.07,361.30) scale(0.520,1)" font-size="14.19" text-anchor="start">o</text>
<text transform="translate(217.70,385.90) scale(0.520,1)" font-size="17.32" text-anchor="start">φ</text>
<text transform="translate(222.40,390.80) scale(0.680,1)" font-size="11.55" text-anchor="start">μ</text>
<text transform="translate(231.70,387.20) scale(0.475,1)" font-size="15.67" text-anchor="middle">=</text>
<path transform="translate(236.50,386.20) scale(0.00383,-0.00806)" d="M515 0V1237L197 1010V1180L530 1409H696V0Z" fill="#000" stroke="#000" stroke-width="22.3"/><text transform="translate(240.86,386.20) scale(0.475,1)" font-size="16.50" text-anchor="start">00</text>
<text transform="translate(250.07,378.50) scale(0.520,1)" font-size="14.19" text-anchor="start">o</text>
<text transform="translate(217.70,402.20) scale(0.520,1)" font-size="17.32" text-anchor="start">φ</text>
<text transform="translate(222.40,407.10) scale(0.680,1)" font-size="11.55" text-anchor="start">μ</text>
<text transform="translate(231.70,403.50) scale(0.475,1)" font-size="15.67" text-anchor="middle">=</text>
<text transform="translate(236.50,402.50) scale(0.475,1)" font-size="16.50" text-anchor="start">80</text>
<text transform="translate(245.72,394.80) scale(0.520,1)" font-size="14.19" text-anchor="start">o</text>
<text transform="translate(217.70,419.00) scale(0.520,1)" font-size="17.32" text-anchor="start">φ</text>
<text transform="translate(222.40,423.90) scale(0.680,1)" font-size="11.55" text-anchor="start">μ</text>
<text transform="translate(231.70,420.30) scale(0.475,1)" font-size="15.67" text-anchor="middle">=</text>
<text transform="translate(236.50,419.30) scale(0.475,1)" font-size="16.50" text-anchor="start">40</text>
<text transform="translate(245.72,411.60) scale(0.520,1)" font-size="14.19" text-anchor="start">o</text>
<text transform="translate(217.70,435.40) scale(0.520,1)" font-size="17.32" text-anchor="start">φ</text>
<text transform="translate(222.40,440.30) scale(0.680,1)" font-size="11.55" text-anchor="start">μ</text>
<text transform="translate(231.70,436.70) scale(0.475,1)" font-size="15.67" text-anchor="middle">=</text>
<text transform="translate(236.50,435.70) scale(0.475,1)" font-size="16.50" text-anchor="start">0</text>
<text transform="translate(241.36,428.00) scale(0.520,1)" font-size="14.19" text-anchor="start">o</text>
</svg></body></html>
